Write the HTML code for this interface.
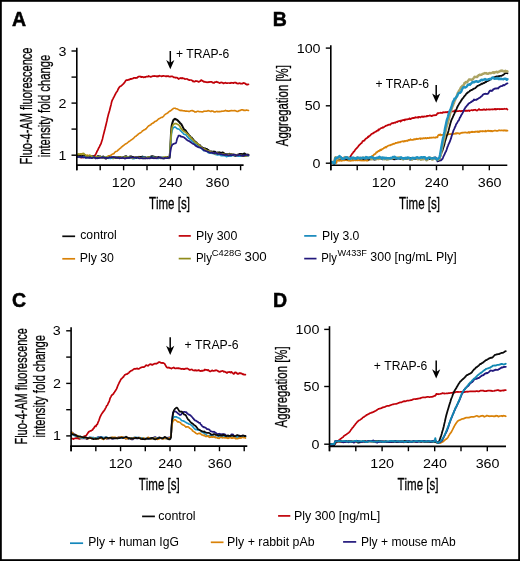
<!DOCTYPE html><html><head><meta charset="utf-8"><style>html,body{margin:0;padding:0;background:#fff;overflow:hidden}svg{filter:grayscale(0.001)}</style></head><body><svg width="520" height="561" viewBox="0 0 520 561" style="display:block">
<g font-family='"Liberation Sans", sans-serif' fill="#000" style="font-kerning:none">
<rect width="520" height="561" fill="#fff"/>
<path d="M77.0,157.3 L77.5,157.1 L78.0,157.1 L78.5,156.9 L79.0,156.9 L79.5,157.2 L80.0,157.3 L80.5,157.3 L81.0,157.6 L81.5,157.7 L82.0,157.4 L82.5,157.4 L83.0,157.5 L83.5,157.5 L84.0,157.2 L84.5,157.1 L85.0,156.9 L85.5,156.6 L86.0,156.1 L86.5,156.3 L87.0,156.2 L87.5,156.6 L88.0,156.9 L88.5,157.2 L89.0,156.8 L89.5,156.9 L90.0,156.8 L90.5,156.8 L91.0,156.5 L91.5,156.9 L92.0,156.8 L92.5,156.6 L93.0,156.5 L93.5,156.3 L94.0,156.0 L94.5,155.9 L95.0,155.4 L95.5,154.4 L96.0,153.7 L96.5,152.7 L97.0,151.4 L97.5,150.5 L98.0,149.8 L98.5,148.4 L99.0,147.5 L99.5,146.7 L100.0,145.5 L100.5,144.5 L101.0,143.8 L101.5,142.0 L102.0,140.4 L102.5,138.9 L103.0,136.6 L103.5,134.6 L104.0,132.7 L104.5,130.7 L105.0,128.8 L105.5,126.7 L106.0,124.7 L106.5,122.6 L107.0,120.5 L107.5,118.0 L108.0,116.1 L108.5,114.0 L109.0,112.4 L109.5,110.7 L110.0,108.7 L110.5,106.7 L111.0,104.9 L111.5,102.6 L112.0,100.8 L112.5,99.7 L113.0,98.8 L113.5,97.7 L114.0,96.9 L114.5,95.8 L115.0,94.8 L115.5,94.0 L116.0,92.9 L116.5,92.1 L117.0,91.5 L117.5,90.7 L118.0,89.5 L118.5,88.5 L119.0,87.7 L119.5,86.9 L120.0,86.6 L120.5,86.3 L121.0,86.0 L121.5,85.6 L122.0,85.2 L122.5,84.7 L123.0,84.2 L123.5,83.8 L124.0,83.0 L124.5,82.7 L125.0,81.8 L125.5,81.0 L126.0,80.4 L126.5,80.2 L127.0,79.8 L127.5,80.2 L128.0,80.1 L128.5,79.7 L129.0,79.7 L129.5,79.6 L130.0,79.0 L130.5,78.9 L131.0,79.1 L131.5,79.0 L132.0,78.6 L132.5,78.6 L133.0,78.5 L133.5,78.1 L134.0,77.9 L134.5,77.9 L135.0,78.0 L135.5,77.9 L136.0,78.1 L136.5,77.8 L137.0,77.9 L137.5,77.2 L138.0,76.8 L138.5,76.8 L139.0,76.4 L139.5,76.5 L140.0,76.5 L140.5,76.9 L141.0,76.6 L141.5,77.1 L142.0,76.9 L142.5,76.9 L143.0,77.0 L143.5,77.4 L144.0,77.2 L144.5,77.1 L145.0,77.3 L145.5,76.9 L146.0,76.8 L146.5,76.6 L147.0,76.7 L147.5,76.5 L148.0,76.6 L148.5,76.0 L149.0,76.4 L149.5,76.3 L150.0,76.7 L150.5,76.8 L151.0,76.9 L151.5,76.5 L152.0,76.4 L152.5,76.2 L153.0,76.1 L153.5,76.2 L154.0,76.0 L154.5,75.9 L155.0,76.2 L155.5,76.1 L156.0,76.0 L156.5,76.3 L157.0,76.7 L157.5,76.1 L158.0,76.2 L158.5,76.3 L159.0,75.8 L159.5,75.7 L160.0,76.0 L160.5,76.0 L161.0,76.0 L161.5,76.4 L162.0,76.2 L162.5,76.2 L163.0,75.9 L163.5,75.8 L164.0,76.0 L164.5,76.0 L165.0,76.1 L165.5,76.3 L166.0,76.4 L166.5,76.1 L167.0,76.3 L167.5,76.2 L168.0,76.1 L168.5,76.2 L169.0,76.6 L169.5,76.6 L170.0,76.7 L170.5,76.6 L171.0,76.4 L171.5,76.4 L172.0,76.5 L172.5,76.4 L173.0,76.7 L173.5,77.3 L174.0,77.3 L174.5,77.4 L175.0,77.5 L175.5,77.8 L176.0,77.5 L176.5,77.6 L177.0,77.7 L177.5,78.1 L178.0,78.3 L178.5,79.0 L179.0,78.7 L179.5,78.4 L180.0,78.5 L180.5,78.0 L181.0,77.9 L181.5,78.4 L182.0,78.5 L182.5,78.0 L183.0,78.4 L183.5,78.5 L184.0,78.4 L184.5,78.8 L185.0,79.2 L185.5,79.0 L186.0,79.0 L186.5,79.0 L187.0,78.8 L187.5,79.2 L188.0,79.6 L188.5,79.8 L189.0,79.9 L189.5,80.2 L190.0,80.0 L190.5,80.0 L191.0,80.0 L191.5,80.2 L192.0,80.5 L192.5,80.8 L193.0,81.5 L193.5,81.2 L194.0,81.6 L194.5,81.6 L195.0,81.6 L195.5,80.9 L196.0,81.2 L196.5,81.2 L197.0,81.2 L197.5,81.3 L198.0,81.5 L198.5,81.9 L199.0,81.8 L199.5,81.4 L200.0,81.2 L200.5,80.9 L201.0,80.1 L201.5,80.0 L202.0,80.7 L202.5,80.9 L203.0,81.1 L203.5,81.6 L204.0,81.9 L204.5,81.7 L205.0,81.7 L205.5,82.0 L206.0,82.2 L206.5,82.2 L207.0,82.3 L207.5,82.3 L208.0,82.1 L208.5,82.3 L209.0,82.0 L209.5,82.1 L210.0,81.8 L210.5,82.0 L211.0,81.9 L211.5,81.8 L212.0,82.0 L212.5,82.6 L213.0,82.5 L213.5,82.7 L214.0,83.0 L214.5,82.2 L215.0,82.0 L215.5,82.1 L216.0,82.0 L216.5,81.7 L217.0,82.2 L217.5,82.1 L218.0,82.4 L218.5,82.4 L219.0,82.7 L219.5,83.1 L220.0,83.0 L220.5,82.7 L221.0,82.3 L221.5,82.6 L222.0,82.5 L222.5,82.8 L223.0,83.1 L223.5,83.5 L224.0,83.2 L224.5,83.0 L225.0,82.8 L225.5,82.7 L226.0,83.0 L226.5,83.1 L227.0,83.1 L227.5,83.1 L228.0,83.0 L228.5,83.0 L229.0,83.0 L229.5,83.1 L230.0,83.1 L230.5,83.1 L231.0,82.7 L231.5,82.8 L232.0,82.8 L232.5,82.8 L233.0,83.0 L233.5,83.1 L234.0,82.6 L234.5,82.7 L235.0,82.6 L235.5,82.8 L236.0,82.6 L236.5,83.1 L237.0,83.5 L237.5,83.6 L238.0,83.3 L238.5,83.6 L239.0,83.5 L239.5,83.0 L240.0,83.2 L240.5,83.7 L241.0,83.6 L241.5,83.6 L242.0,83.6 L242.5,83.6 L243.0,83.0 L243.5,82.9 L244.0,83.2 L244.5,83.2 L245.0,83.4 L245.5,84.0 L246.0,84.3 L246.5,84.2 L247.0,84.8 L247.5,84.6 L248.0,84.3 L248.5,84.3" fill="none" stroke="#c00008" stroke-width="1.7" stroke-linejoin="round" stroke-linecap="round" opacity="1.0"/>
<path d="M77.0,155.2 L77.5,155.3 L78.0,155.3 L78.5,155.0 L79.0,154.9 L79.5,154.7 L80.0,154.3 L80.5,153.9 L81.0,153.9 L81.5,153.8 L82.0,153.7 L82.5,153.6 L83.0,153.7 L83.5,153.9 L84.0,154.1 L84.5,154.8 L85.0,155.2 L85.5,155.4 L86.0,155.4 L86.5,155.6 L87.0,155.2 L87.5,155.1 L88.0,155.4 L88.5,155.9 L89.0,156.0 L89.5,156.2 L90.0,156.6 L90.5,156.5 L91.0,156.6 L91.5,157.0 L92.0,157.4 L92.5,157.4 L93.0,157.4 L93.5,157.4 L94.0,157.0 L94.5,156.9 L95.0,157.1 L95.5,157.1 L96.0,157.3 L96.5,157.6 L97.0,157.9 L97.5,157.9 L98.0,158.2 L98.5,158.0 L99.0,157.8 L99.5,157.6 L100.0,157.4 L100.5,157.1 L101.0,157.3 L101.5,157.3 L102.0,157.3 L102.5,157.7 L103.0,157.6 L103.5,157.3 L104.0,157.3 L104.5,157.3 L105.0,157.1 L105.5,157.4 L106.0,157.5 L106.5,157.2 L107.0,156.8 L107.5,156.8 L108.0,156.4 L108.5,155.8 L109.0,155.9 L109.5,155.9 L110.0,155.7 L110.5,155.3 L111.0,155.3 L111.5,154.6 L112.0,154.6 L112.5,154.0 L113.0,154.0 L113.5,153.7 L114.0,153.6 L114.5,152.6 L115.0,152.2 L115.5,151.8 L116.0,151.4 L116.5,151.2 L117.0,151.2 L117.5,150.7 L118.0,150.1 L118.5,149.9 L119.0,149.3 L119.5,148.8 L120.0,148.5 L120.5,148.1 L121.0,147.6 L121.5,147.0 L122.0,146.6 L122.5,146.5 L123.0,145.8 L123.5,145.6 L124.0,145.2 L124.5,144.7 L125.0,144.2 L125.5,144.0 L126.0,143.8 L126.5,143.4 L127.0,143.2 L127.5,142.7 L128.0,142.3 L128.5,141.8 L129.0,141.5 L129.5,141.2 L130.0,140.9 L130.5,140.5 L131.0,140.1 L131.5,139.7 L132.0,139.5 L132.5,139.0 L133.0,138.8 L133.5,138.2 L134.0,137.9 L134.5,137.2 L135.0,136.7 L135.5,136.3 L136.0,136.3 L136.5,135.6 L137.0,135.2 L137.5,135.0 L138.0,134.4 L138.5,133.9 L139.0,133.6 L139.5,133.3 L140.0,133.1 L140.5,132.8 L141.0,132.4 L141.5,132.0 L142.0,131.5 L142.5,130.7 L143.0,130.7 L143.5,130.2 L144.0,129.9 L144.5,129.7 L145.0,129.6 L145.5,128.9 L146.0,128.9 L146.5,128.3 L147.0,127.6 L147.5,127.1 L148.0,126.5 L148.5,125.9 L149.0,125.8 L149.5,125.5 L150.0,125.1 L150.5,124.9 L151.0,124.7 L151.5,123.7 L152.0,123.6 L152.5,123.3 L153.0,123.2 L153.5,122.5 L154.0,122.5 L154.5,121.8 L155.0,121.5 L155.5,121.2 L156.0,121.2 L156.5,120.8 L157.0,120.5 L157.5,120.1 L158.0,119.4 L158.5,119.0 L159.0,118.7 L159.5,118.4 L160.0,118.2 L160.5,117.9 L161.0,117.6 L161.5,117.4 L162.0,117.4 L162.5,117.2 L163.0,116.7 L163.5,116.4 L164.0,115.7 L164.5,114.9 L165.0,114.6 L165.5,114.2 L166.0,113.9 L166.5,113.6 L167.0,113.4 L167.5,113.0 L168.0,112.7 L168.5,112.1 L169.0,111.8 L169.5,111.3 L170.0,111.1 L170.5,110.9 L171.0,110.4 L171.5,110.1 L172.0,109.6 L172.5,109.2 L173.0,108.8 L173.5,108.4 L174.0,108.2 L174.5,108.3 L175.0,108.3 L175.5,108.4 L176.0,108.8 L176.5,108.8 L177.0,108.9 L177.5,109.1 L178.0,109.4 L178.5,109.6 L179.0,110.0 L179.5,110.2 L180.0,110.4 L180.5,110.3 L181.0,110.7 L181.5,110.4 L182.0,110.5 L182.5,110.6 L183.0,110.8 L183.5,110.8 L184.0,111.0 L184.5,110.9 L185.0,111.0 L185.5,111.1 L186.0,111.1 L186.5,111.0 L187.0,111.1 L187.5,111.2 L188.0,111.3 L188.5,111.4 L189.0,111.4 L189.5,111.5 L190.0,111.3 L190.5,110.8 L191.0,110.8 L191.5,110.8 L192.0,110.5 L192.5,110.5 L193.0,111.1 L193.5,111.0 L194.0,111.3 L194.5,111.8 L195.0,112.1 L195.5,111.9 L196.0,112.0 L196.5,111.7 L197.0,111.4 L197.5,111.2 L198.0,111.3 L198.5,111.3 L199.0,111.7 L199.5,111.7 L200.0,111.6 L200.5,111.7 L201.0,111.7 L201.5,111.7 L202.0,111.9 L202.5,111.9 L203.0,111.8 L203.5,111.6 L204.0,111.1 L204.5,111.2 L205.0,111.2 L205.5,111.2 L206.0,111.1 L206.5,111.2 L207.0,111.1 L207.5,110.9 L208.0,110.5 L208.5,110.7 L209.0,110.9 L209.5,111.0 L210.0,111.1 L210.5,111.4 L211.0,111.6 L211.5,111.0 L212.0,110.9 L212.5,111.1 L213.0,111.2 L213.5,111.3 L214.0,111.9 L214.5,112.0 L215.0,111.9 L215.5,111.9 L216.0,111.6 L216.5,111.4 L217.0,111.4 L217.5,111.7 L218.0,111.5 L218.5,111.6 L219.0,111.6 L219.5,111.7 L220.0,111.4 L220.5,111.6 L221.0,111.4 L221.5,111.4 L222.0,111.1 L222.5,111.2 L223.0,111.2 L223.5,111.1 L224.0,110.9 L224.5,111.0 L225.0,110.8 L225.5,110.3 L226.0,110.7 L226.5,110.9 L227.0,110.9 L227.5,110.9 L228.0,111.3 L228.5,111.1 L229.0,111.2 L229.5,110.9 L230.0,110.9 L230.5,110.7 L231.0,110.6 L231.5,110.5 L232.0,110.7 L232.5,110.7 L233.0,110.6 L233.5,110.7 L234.0,110.7 L234.5,110.5 L235.0,110.6 L235.5,110.7 L236.0,111.1 L236.5,111.3 L237.0,111.4 L237.5,111.4 L238.0,111.5 L238.5,111.1 L239.0,110.6 L239.5,110.6 L240.0,110.6 L240.5,110.2 L241.0,110.0 L241.5,109.9 L242.0,110.0 L242.5,109.8 L243.0,109.9 L243.5,110.2 L244.0,110.5 L244.5,110.3 L245.0,110.5 L245.5,110.4 L246.0,110.3 L246.5,110.1 L247.0,110.3 L247.5,110.3 L248.0,110.4 L248.5,110.5" fill="none" stroke="#d98208" stroke-width="1.6" stroke-linejoin="round" stroke-linecap="round" opacity="1.0"/>
<path d="M77.0,155.5 L77.5,155.6 L78.0,155.1 L78.5,155.0 L79.0,155.0 L79.5,155.5 L80.0,155.6 L80.5,155.9 L81.0,156.2 L81.5,156.8 L82.0,156.2 L82.5,155.9 L83.0,156.2 L83.5,156.3 L84.0,156.1 L84.5,156.1 L85.0,156.8 L85.5,157.0 L86.0,157.2 L86.5,157.4 L87.0,157.2 L87.5,157.0 L88.0,156.7 L88.5,156.8 L89.0,156.9 L89.5,157.3 L90.0,156.9 L90.5,157.0 L91.0,156.7 L91.5,156.5 L92.0,156.5 L92.5,156.8 L93.0,156.2 L93.5,156.6 L94.0,156.8 L94.5,157.2 L95.0,157.7 L95.5,158.2 L96.0,157.6 L96.5,157.3 L97.0,156.8 L97.5,156.3 L98.0,156.3 L98.5,156.2 L99.0,156.5 L99.5,156.5 L100.0,156.6 L100.5,156.6 L101.0,157.0 L101.5,156.9 L102.0,157.1 L102.5,156.9 L103.0,156.6 L103.5,156.6 L104.0,157.1 L104.5,157.6 L105.0,158.1 L105.5,158.6 L106.0,158.5 L106.5,158.4 L107.0,157.9 L107.5,157.6 L108.0,157.4 L108.5,157.6 L109.0,157.2 L109.5,157.2 L110.0,156.9 L110.5,156.9 L111.0,157.4 L111.5,157.5 L112.0,157.5 L112.5,157.8 L113.0,158.1 L113.5,157.3 L114.0,157.3 L114.5,157.6 L115.0,157.5 L115.5,157.4 L116.0,158.0 L116.5,157.9 L117.0,157.7 L117.5,157.5 L118.0,157.8 L118.5,157.0 L119.0,157.0 L119.5,156.9 L120.0,157.2 L120.5,157.0 L121.0,157.7 L121.5,157.5 L122.0,157.8 L122.5,157.6 L123.0,157.3 L123.5,157.1 L124.0,157.3 L124.5,156.7 L125.0,156.6 L125.5,156.5 L126.0,156.2 L126.5,156.5 L127.0,157.0 L127.5,157.5 L128.0,157.8 L128.5,157.6 L129.0,157.3 L129.5,157.0 L130.0,156.4 L130.5,156.5 L131.0,156.7 L131.5,156.5 L132.0,156.8 L132.5,157.1 L133.0,157.1 L133.5,157.2 L134.0,157.8 L134.5,157.7 L135.0,158.0 L135.5,158.0 L136.0,158.1 L136.5,158.0 L137.0,157.7 L137.5,157.4 L138.0,157.2 L138.5,157.2 L139.0,156.8 L139.5,157.5 L140.0,157.5 L140.5,157.3 L141.0,156.9 L141.5,157.1 L142.0,156.8 L142.5,156.6 L143.0,156.9 L143.5,157.1 L144.0,157.3 L144.5,157.2 L145.0,157.3 L145.5,157.5 L146.0,158.2 L146.5,157.9 L147.0,157.9 L147.5,157.8 L148.0,157.7 L148.5,156.9 L149.0,157.0 L149.5,157.1 L150.0,157.1 L150.5,156.7 L151.0,156.9 L151.5,156.5 L152.0,156.2 L152.5,156.3 L153.0,156.6 L153.5,156.6 L154.0,156.7 L154.5,156.9 L155.0,157.2 L155.5,157.3 L156.0,157.3 L156.5,157.5 L157.0,157.8 L157.5,157.5 L158.0,157.1 L158.5,156.9 L159.0,157.4 L159.5,157.4 L160.0,157.8 L160.5,157.9 L161.0,158.3 L161.5,157.8 L162.0,157.8 L162.5,158.1 L163.0,158.3 L163.5,158.0 L164.0,158.1 L164.5,158.3 L165.0,158.0 L165.5,157.7 L166.0,157.4 L166.5,157.4 L167.0,157.3 L167.5,157.1 L168.0,157.5 L168.5,157.9 L169.0,158.2 L169.5,157.9 L170.0,152.7 L170.5,143.9 L171.0,133.3 L171.5,127.0 L172.0,124.2 L172.5,122.6 L173.0,121.0 L173.5,120.0 L174.0,119.4 L174.5,119.2 L175.0,118.7 L175.5,119.1 L176.0,119.3 L176.5,119.6 L177.0,119.9 L177.5,120.2 L178.0,120.7 L178.5,121.4 L179.0,121.7 L179.5,122.2 L180.0,123.1 L180.5,123.4 L181.0,123.9 L181.5,124.5 L182.0,125.4 L182.5,126.4 L183.0,127.7 L183.5,128.3 L184.0,129.4 L184.5,129.8 L185.0,130.0 L185.5,130.6 L186.0,131.0 L186.5,131.8 L187.0,132.5 L187.5,133.4 L188.0,133.8 L188.5,134.6 L189.0,135.1 L189.5,135.9 L190.0,136.2 L190.5,136.9 L191.0,137.5 L191.5,137.5 L192.0,138.1 L192.5,138.8 L193.0,139.2 L193.5,139.9 L194.0,141.1 L194.5,141.3 L195.0,141.5 L195.5,141.9 L196.0,142.6 L196.5,142.5 L197.0,143.4 L197.5,143.8 L198.0,144.1 L198.5,144.5 L199.0,145.2 L199.5,145.0 L200.0,145.4 L200.5,146.2 L201.0,146.5 L201.5,146.8 L202.0,147.5 L202.5,148.0 L203.0,148.0 L203.5,148.0 L204.0,148.4 L204.5,148.4 L205.0,148.4 L205.5,148.7 L206.0,148.9 L206.5,148.9 L207.0,149.2 L207.5,149.7 L208.0,149.9 L208.5,150.3 L209.0,150.8 L209.5,151.2 L210.0,151.6 L210.5,151.6 L211.0,151.7 L211.5,151.5 L212.0,151.9 L212.5,152.0 L213.0,151.8 L213.5,151.6 L214.0,151.9 L214.5,151.8 L215.0,151.7 L215.5,152.2 L216.0,152.7 L216.5,152.8 L217.0,152.7 L217.5,152.9 L218.0,152.5 L218.5,152.6 L219.0,152.4 L219.5,152.7 L220.0,152.5 L220.5,152.9 L221.0,152.9 L221.5,153.0 L222.0,152.7 L222.5,152.5 L223.0,152.7 L223.5,152.8 L224.0,153.4 L224.5,153.6 L225.0,154.3 L225.5,154.3 L226.0,154.3 L226.5,154.2 L227.0,154.6 L227.5,154.3 L228.0,154.3 L228.5,154.4 L229.0,154.3 L229.5,153.9 L230.0,154.3 L230.5,154.3 L231.0,154.4 L231.5,154.3 L232.0,154.6 L232.5,154.5 L233.0,154.5 L233.5,154.9 L234.0,155.2 L234.5,155.6 L235.0,155.7 L235.5,155.7 L236.0,155.2 L236.5,155.2 L237.0,154.9 L237.5,154.7 L238.0,154.8 L238.5,154.5 L239.0,154.4 L239.5,153.9 L240.0,154.0 L240.5,153.9 L241.0,154.1 L241.5,154.1 L242.0,154.7 L242.5,154.3 L243.0,154.1 L243.5,154.0 L244.0,153.6 L244.5,153.4 L245.0,154.0 L245.5,154.2 L246.0,154.6 L246.5,154.7 L247.0,155.0 L247.5,154.6 L248.0,154.8 L248.5,154.7" fill="none" stroke="#0a0a0a" stroke-width="2.0" stroke-linejoin="round" stroke-linecap="round" opacity="1.0"/>
<path d="M77.0,157.1 L77.5,157.1 L78.0,157.2 L78.5,157.1 L79.0,157.1 L79.5,156.8 L80.0,157.0 L80.5,157.0 L81.0,157.5 L81.5,157.1 L82.0,157.1 L82.5,157.2 L83.0,157.2 L83.5,156.8 L84.0,157.1 L84.5,157.0 L85.0,156.9 L85.5,157.4 L86.0,157.7 L86.5,157.6 L87.0,157.7 L87.5,157.6 L88.0,157.4 L88.5,157.1 L89.0,157.2 L89.5,157.5 L90.0,157.7 L90.5,157.5 L91.0,157.4 L91.5,157.3 L92.0,157.1 L92.5,156.6 L93.0,156.8 L93.5,156.8 L94.0,157.2 L94.5,157.6 L95.0,158.1 L95.5,157.8 L96.0,158.1 L96.5,158.2 L97.0,157.8 L97.5,157.4 L98.0,157.6 L98.5,157.2 L99.0,157.3 L99.5,157.0 L100.0,157.0 L100.5,157.0 L101.0,157.2 L101.5,157.0 L102.0,157.4 L102.5,157.6 L103.0,157.8 L103.5,157.5 L104.0,157.5 L104.5,157.3 L105.0,157.4 L105.5,157.2 L106.0,157.4 L106.5,157.3 L107.0,157.6 L107.5,157.6 L108.0,157.5 L108.5,157.9 L109.0,158.4 L109.5,158.0 L110.0,158.0 L110.5,158.5 L111.0,158.3 L111.5,158.0 L112.0,158.2 L112.5,158.1 L113.0,157.7 L113.5,157.5 L114.0,157.6 L114.5,157.5 L115.0,157.5 L115.5,157.4 L116.0,157.5 L116.5,157.2 L117.0,157.3 L117.5,157.5 L118.0,157.7 L118.5,157.8 L119.0,158.0 L119.5,158.1 L120.0,157.9 L120.5,157.8 L121.0,157.8 L121.5,157.6 L122.0,157.8 L122.5,157.8 L123.0,157.8 L123.5,157.6 L124.0,157.6 L124.5,157.5 L125.0,157.3 L125.5,157.6 L126.0,157.6 L126.5,157.3 L127.0,157.2 L127.5,157.0 L128.0,156.8 L128.5,157.1 L129.0,157.6 L129.5,157.5 L130.0,157.7 L130.5,158.0 L131.0,157.8 L131.5,157.7 L132.0,158.1 L132.5,158.6 L133.0,158.6 L133.5,158.5 L134.0,158.6 L134.5,158.5 L135.0,158.0 L135.5,157.7 L136.0,157.7 L136.5,157.5 L137.0,157.4 L137.5,157.5 L138.0,158.0 L138.5,157.9 L139.0,158.0 L139.5,158.0 L140.0,158.0 L140.5,157.8 L141.0,157.9 L141.5,157.8 L142.0,157.5 L142.5,157.3 L143.0,157.3 L143.5,157.3 L144.0,157.3 L144.5,157.5 L145.0,157.7 L145.5,157.7 L146.0,157.6 L146.5,157.7 L147.0,157.4 L147.5,157.3 L148.0,157.4 L148.5,157.2 L149.0,157.2 L149.5,157.5 L150.0,157.6 L150.5,157.2 L151.0,157.6 L151.5,157.6 L152.0,157.6 L152.5,157.3 L153.0,157.5 L153.5,157.3 L154.0,157.2 L154.5,157.3 L155.0,157.7 L155.5,157.9 L156.0,157.9 L156.5,158.1 L157.0,158.3 L157.5,158.4 L158.0,158.4 L158.5,158.5 L159.0,158.3 L159.5,158.3 L160.0,157.9 L160.5,157.7 L161.0,157.6 L161.5,157.6 L162.0,157.2 L162.5,157.3 L163.0,157.2 L163.5,157.5 L164.0,157.7 L164.5,157.9 L165.0,158.0 L165.5,157.9 L166.0,157.8 L166.5,157.7 L167.0,157.8 L167.5,158.1 L168.0,158.2 L168.5,157.9 L169.0,157.8 L169.5,157.5 L170.0,152.9 L170.5,145.6 L171.0,139.8 L171.5,133.8 L172.0,131.0 L172.5,129.5 L173.0,128.2 L173.5,127.6 L174.0,127.4 L174.5,127.1 L175.0,126.9 L175.5,127.3 L176.0,127.7 L176.5,128.1 L177.0,128.6 L177.5,128.9 L178.0,128.9 L178.5,129.1 L179.0,129.3 L179.5,129.5 L180.0,130.0 L180.5,130.7 L181.0,131.0 L181.5,131.6 L182.0,132.2 L182.5,132.5 L183.0,133.1 L183.5,133.9 L184.0,134.2 L184.5,134.2 L185.0,134.5 L185.5,134.8 L186.0,134.9 L186.5,135.4 L187.0,136.5 L187.5,137.0 L188.0,137.3 L188.5,138.2 L189.0,138.6 L189.5,138.7 L190.0,139.2 L190.5,139.9 L191.0,139.9 L191.5,140.6 L192.0,141.1 L192.5,141.4 L193.0,141.8 L193.5,142.4 L194.0,142.6 L194.5,143.1 L195.0,143.7 L195.5,144.5 L196.0,144.6 L196.5,145.3 L197.0,145.6 L197.5,146.0 L198.0,146.0 L198.5,146.7 L199.0,147.0 L199.5,147.4 L200.0,147.7 L200.5,147.8 L201.0,148.1 L201.5,148.4 L202.0,148.9 L202.5,149.4 L203.0,149.9 L203.5,150.4 L204.0,150.7 L204.5,150.5 L205.0,150.5 L205.5,150.4 L206.0,150.6 L206.5,150.7 L207.0,151.3 L207.5,151.8 L208.0,152.5 L208.5,152.7 L209.0,153.0 L209.5,152.9 L210.0,153.0 L210.5,153.0 L211.0,152.9 L211.5,153.1 L212.0,153.5 L212.5,153.4 L213.0,153.5 L213.5,153.6 L214.0,153.8 L214.5,153.8 L215.0,154.2 L215.5,154.5 L216.0,154.5 L216.5,154.8 L217.0,154.7 L217.5,154.9 L218.0,154.9 L218.5,154.8 L219.0,154.6 L219.5,154.8 L220.0,155.0 L220.5,155.1 L221.0,155.6 L221.5,155.5 L222.0,155.8 L222.5,155.8 L223.0,155.8 L223.5,155.8 L224.0,155.8 L224.5,155.8 L225.0,155.9 L225.5,156.1 L226.0,156.3 L226.5,156.7 L227.0,156.4 L227.5,156.2 L228.0,156.0 L228.5,155.8 L229.0,155.7 L229.5,156.1 L230.0,155.9 L230.5,156.2 L231.0,156.1 L231.5,155.9 L232.0,155.8 L232.5,155.6 L233.0,155.4 L233.5,155.3 L234.0,155.4 L234.5,155.1 L235.0,155.0 L235.5,155.0 L236.0,155.2 L236.5,155.3 L237.0,155.9 L237.5,155.9 L238.0,156.1 L238.5,156.2 L239.0,156.1 L239.5,155.7 L240.0,156.2 L240.5,156.3 L241.0,155.9 L241.5,155.8 L242.0,155.9 L242.5,155.7 L243.0,155.5 L243.5,155.5 L244.0,155.8 L244.5,155.9 L245.0,155.7 L245.5,156.0 L246.0,156.3 L246.5,155.9 L247.0,155.8 L247.5,155.9 L248.0,155.8 L248.5,155.7" fill="none" stroke="#1a96c8" stroke-width="1.6" stroke-linejoin="round" stroke-linecap="round" opacity="1.0"/>
<path d="M77.0,154.5 L77.5,154.4 L78.0,154.4 L78.5,153.9 L79.0,154.5 L79.5,154.2 L80.0,154.1 L80.5,154.0 L81.0,154.4 L81.5,154.0 L82.0,153.9 L82.5,153.9 L83.0,153.7 L83.5,153.3 L84.0,153.9 L84.5,154.3 L85.0,154.7 L85.5,154.9 L86.0,155.8 L86.5,155.8 L87.0,156.1 L87.5,156.0 L88.0,156.1 L88.5,156.0 L89.0,155.6 L89.5,155.2 L90.0,155.3 L90.5,155.5 L91.0,155.7 L91.5,156.1 L92.0,156.8 L92.5,157.1 L93.0,157.4 L93.5,157.6 L94.0,157.6 L94.5,157.3 L95.0,157.2 L95.5,157.1 L96.0,156.8 L96.5,156.8 L97.0,156.8 L97.5,157.0 L98.0,157.0 L98.5,157.1 L99.0,157.2 L99.5,157.0 L100.0,156.6 L100.5,156.9 L101.0,157.3 L101.5,157.5 L102.0,157.6 L102.5,157.9 L103.0,157.6 L103.5,157.4 L104.0,157.3 L104.5,157.5 L105.0,157.5 L105.5,157.5 L106.0,157.3 L106.5,157.0 L107.0,156.9 L107.5,156.5 L108.0,156.6 L108.5,156.5 L109.0,156.8 L109.5,157.0 L110.0,157.0 L110.5,156.9 L111.0,156.9 L111.5,157.0 L112.0,157.2 L112.5,157.5 L113.0,157.6 L113.5,158.0 L114.0,157.7 L114.5,157.6 L115.0,157.4 L115.5,157.0 L116.0,157.2 L116.5,157.7 L117.0,157.3 L117.5,157.4 L118.0,157.8 L118.5,157.4 L119.0,157.0 L119.5,157.0 L120.0,157.1 L120.5,157.2 L121.0,157.3 L121.5,157.6 L122.0,158.1 L122.5,157.9 L123.0,157.9 L123.5,157.4 L124.0,157.2 L124.5,157.0 L125.0,157.0 L125.5,157.0 L126.0,157.3 L126.5,157.4 L127.0,157.1 L127.5,157.2 L128.0,157.0 L128.5,157.2 L129.0,157.4 L129.5,157.4 L130.0,157.3 L130.5,157.5 L131.0,157.3 L131.5,157.4 L132.0,157.9 L132.5,158.2 L133.0,158.1 L133.5,158.1 L134.0,157.8 L134.5,157.3 L135.0,157.0 L135.5,156.9 L136.0,156.9 L136.5,157.1 L137.0,157.2 L137.5,157.3 L138.0,157.2 L138.5,157.5 L139.0,157.5 L139.5,157.9 L140.0,158.0 L140.5,158.4 L141.0,158.1 L141.5,158.2 L142.0,158.3 L142.5,158.0 L143.0,158.0 L143.5,158.3 L144.0,158.2 L144.5,157.9 L145.0,158.3 L145.5,158.0 L146.0,157.8 L146.5,157.6 L147.0,157.4 L147.5,157.1 L148.0,157.2 L148.5,157.1 L149.0,157.3 L149.5,157.2 L150.0,157.6 L150.5,157.9 L151.0,158.0 L151.5,157.8 L152.0,158.0 L152.5,157.8 L153.0,157.7 L153.5,157.3 L154.0,157.5 L154.5,158.0 L155.0,157.6 L155.5,157.7 L156.0,158.0 L156.5,157.9 L157.0,157.6 L157.5,157.7 L158.0,157.6 L158.5,157.8 L159.0,157.8 L159.5,157.5 L160.0,157.7 L160.5,157.6 L161.0,157.6 L161.5,157.5 L162.0,157.7 L162.5,157.5 L163.0,157.6 L163.5,157.4 L164.0,157.1 L164.5,157.0 L165.0,157.0 L165.5,156.8 L166.0,157.1 L166.5,157.3 L167.0,157.2 L167.5,157.6 L168.0,157.6 L168.5,157.6 L169.0,157.9 L169.5,157.9 L170.0,152.5 L170.5,143.7 L171.0,136.9 L171.5,130.9 L172.0,128.0 L172.5,126.3 L173.0,124.9 L173.5,124.6 L174.0,124.2 L174.5,123.7 L175.0,123.5 L175.5,123.7 L176.0,123.5 L176.5,123.7 L177.0,124.0 L177.5,124.5 L178.0,124.5 L178.5,124.7 L179.0,125.3 L179.5,125.9 L180.0,126.5 L180.5,127.5 L181.0,128.4 L181.5,128.8 L182.0,129.7 L182.5,130.2 L183.0,130.5 L183.5,131.0 L184.0,131.5 L184.5,131.5 L185.0,131.9 L185.5,132.5 L186.0,132.6 L186.5,133.0 L187.0,133.6 L187.5,134.0 L188.0,134.3 L188.5,135.0 L189.0,135.6 L189.5,136.1 L190.0,136.5 L190.5,137.4 L191.0,137.8 L191.5,138.2 L192.0,138.9 L192.5,139.5 L193.0,139.8 L193.5,140.7 L194.0,141.1 L194.5,141.3 L195.0,142.0 L195.5,142.7 L196.0,142.7 L196.5,143.1 L197.0,143.4 L197.5,143.6 L198.0,143.8 L198.5,144.4 L199.0,145.0 L199.5,145.4 L200.0,145.9 L200.5,146.5 L201.0,146.8 L201.5,147.2 L202.0,147.9 L202.5,148.2 L203.0,148.4 L203.5,148.8 L204.0,148.9 L204.5,149.0 L205.0,149.4 L205.5,149.6 L206.0,149.9 L206.5,150.4 L207.0,150.5 L207.5,150.7 L208.0,150.8 L208.5,150.9 L209.0,150.8 L209.5,151.4 L210.0,151.5 L210.5,151.8 L211.0,152.0 L211.5,152.2 L212.0,152.1 L212.5,152.3 L213.0,152.9 L213.5,153.1 L214.0,153.5 L214.5,153.6 L215.0,153.8 L215.5,153.4 L216.0,153.4 L216.5,153.3 L217.0,153.3 L217.5,153.0 L218.0,153.5 L218.5,153.5 L219.0,153.5 L219.5,153.6 L220.0,154.0 L220.5,154.0 L221.0,153.9 L221.5,153.9 L222.0,154.0 L222.5,154.1 L223.0,154.1 L223.5,154.2 L224.0,154.3 L224.5,154.3 L225.0,154.5 L225.5,154.5 L226.0,154.8 L226.5,155.1 L227.0,155.1 L227.5,155.1 L228.0,155.1 L228.5,154.6 L229.0,154.3 L229.5,154.4 L230.0,154.2 L230.5,154.4 L231.0,154.7 L231.5,154.6 L232.0,154.8 L232.5,154.6 L233.0,154.7 L233.5,154.6 L234.0,154.8 L234.5,154.5 L235.0,154.6 L235.5,154.7 L236.0,154.9 L236.5,155.2 L237.0,155.2 L237.5,155.3 L238.0,155.2 L238.5,155.2 L239.0,154.8 L239.5,155.1 L240.0,155.2 L240.5,155.2 L241.0,155.2 L241.5,155.7 L242.0,155.6 L242.5,155.8 L243.0,156.0 L243.5,156.1 L244.0,156.2 L244.5,156.1 L245.0,156.2 L245.5,156.2 L246.0,156.0 L246.5,155.7 L247.0,155.7 L247.5,155.6 L248.0,155.5 L248.5,155.5" fill="none" stroke="#9c9620" stroke-width="1.7" stroke-linejoin="round" stroke-linecap="round" opacity="1.0"/>
<path d="M77.0,157.1 L77.5,157.1 L78.0,156.8 L78.5,157.0 L79.0,157.0 L79.5,156.9 L80.0,156.9 L80.5,156.9 L81.0,157.1 L81.5,156.9 L82.0,157.2 L82.5,156.9 L83.0,157.4 L83.5,157.3 L84.0,157.5 L84.5,157.3 L85.0,157.5 L85.5,157.8 L86.0,157.7 L86.5,157.5 L87.0,157.6 L87.5,157.6 L88.0,157.4 L88.5,157.8 L89.0,157.8 L89.5,157.6 L90.0,158.0 L90.5,157.9 L91.0,157.8 L91.5,158.1 L92.0,158.2 L92.5,158.0 L93.0,157.6 L93.5,157.3 L94.0,157.3 L94.5,157.3 L95.0,157.7 L95.5,157.9 L96.0,158.1 L96.5,158.0 L97.0,158.4 L97.5,158.1 L98.0,157.9 L98.5,158.1 L99.0,158.2 L99.5,157.8 L100.0,157.6 L100.5,158.0 L101.0,158.0 L101.5,157.6 L102.0,157.6 L102.5,157.6 L103.0,157.5 L103.5,157.5 L104.0,157.8 L104.5,158.0 L105.0,157.9 L105.5,157.9 L106.0,158.0 L106.5,157.9 L107.0,158.0 L107.5,158.1 L108.0,157.9 L108.5,157.9 L109.0,157.7 L109.5,157.2 L110.0,157.5 L110.5,157.5 L111.0,157.3 L111.5,157.2 L112.0,157.4 L112.5,157.0 L113.0,157.1 L113.5,157.2 L114.0,157.1 L114.5,157.4 L115.0,157.4 L115.5,157.3 L116.0,157.3 L116.5,157.7 L117.0,157.3 L117.5,157.8 L118.0,157.8 L118.5,157.8 L119.0,157.8 L119.5,158.3 L120.0,157.9 L120.5,158.2 L121.0,158.1 L121.5,158.2 L122.0,157.9 L122.5,157.9 L123.0,158.0 L123.5,158.2 L124.0,158.0 L124.5,158.5 L125.0,158.6 L125.5,158.2 L126.0,158.3 L126.5,158.1 L127.0,157.9 L127.5,158.0 L128.0,158.1 L128.5,157.8 L129.0,158.1 L129.5,157.9 L130.0,157.5 L130.5,157.7 L131.0,157.5 L131.5,157.4 L132.0,157.4 L132.5,157.5 L133.0,157.4 L133.5,157.6 L134.0,157.7 L134.5,157.7 L135.0,157.7 L135.5,157.4 L136.0,157.4 L136.5,157.4 L137.0,157.3 L137.5,157.4 L138.0,157.8 L138.5,158.1 L139.0,158.3 L139.5,158.4 L140.0,158.2 L140.5,158.2 L141.0,158.1 L141.5,158.0 L142.0,158.1 L142.5,158.5 L143.0,158.4 L143.5,158.5 L144.0,158.4 L144.5,158.5 L145.0,158.3 L145.5,158.2 L146.0,158.3 L146.5,158.1 L147.0,158.3 L147.5,158.3 L148.0,158.4 L148.5,158.2 L149.0,158.2 L149.5,158.3 L150.0,158.3 L150.5,157.9 L151.0,157.8 L151.5,157.8 L152.0,157.8 L152.5,157.9 L153.0,158.2 L153.5,158.2 L154.0,158.3 L154.5,158.1 L155.0,158.3 L155.5,158.1 L156.0,158.3 L156.5,158.3 L157.0,158.1 L157.5,157.8 L158.0,157.8 L158.5,157.4 L159.0,157.4 L159.5,157.7 L160.0,157.6 L160.5,157.4 L161.0,158.0 L161.5,158.0 L162.0,158.1 L162.5,158.3 L163.0,158.5 L163.5,158.4 L164.0,158.3 L164.5,158.1 L165.0,157.9 L165.5,158.0 L166.0,158.0 L166.5,158.1 L167.0,158.1 L167.5,158.0 L168.0,158.1 L168.5,157.8 L169.0,157.7 L169.5,157.7 L170.0,155.3 L170.5,150.7 L171.0,148.1 L171.5,146.5 L172.0,145.4 L172.5,144.5 L173.0,144.0 L173.5,144.2 L174.0,143.8 L174.5,143.5 L175.0,143.4 L175.5,143.3 L176.0,143.0 L176.5,141.4 L177.0,139.3 L177.5,137.8 L178.0,136.8 L178.5,135.7 L179.0,135.8 L179.5,135.5 L180.0,135.8 L180.5,136.1 L181.0,136.7 L181.5,136.5 L182.0,136.8 L182.5,136.8 L183.0,137.0 L183.5,137.0 L184.0,137.5 L184.5,137.8 L185.0,138.3 L185.5,138.6 L186.0,139.0 L186.5,139.7 L187.0,139.9 L187.5,140.3 L188.0,140.7 L188.5,141.0 L189.0,140.9 L189.5,141.5 L190.0,141.7 L190.5,142.2 L191.0,142.4 L191.5,142.8 L192.0,143.2 L192.5,143.6 L193.0,143.6 L193.5,144.0 L194.0,144.3 L194.5,144.6 L195.0,145.1 L195.5,145.8 L196.0,145.9 L196.5,146.0 L197.0,146.6 L197.5,146.9 L198.0,146.9 L198.5,147.2 L199.0,147.5 L199.5,147.5 L200.0,147.3 L200.5,147.7 L201.0,148.0 L201.5,148.1 L202.0,148.6 L202.5,149.0 L203.0,149.3 L203.5,149.8 L204.0,150.4 L204.5,150.4 L205.0,150.7 L205.5,150.8 L206.0,151.1 L206.5,151.3 L207.0,151.3 L207.5,151.5 L208.0,151.9 L208.5,151.8 L209.0,152.2 L209.5,152.7 L210.0,152.7 L210.5,152.8 L211.0,152.6 L211.5,152.5 L212.0,152.4 L212.5,153.0 L213.0,153.2 L213.5,153.2 L214.0,153.1 L214.5,153.3 L215.0,152.7 L215.5,152.7 L216.0,153.1 L216.5,153.4 L217.0,153.4 L217.5,153.6 L218.0,154.0 L218.5,154.0 L219.0,154.0 L219.5,153.9 L220.0,154.0 L220.5,154.1 L221.0,154.0 L221.5,154.1 L222.0,154.5 L222.5,154.6 L223.0,154.5 L223.5,154.7 L224.0,154.9 L224.5,155.0 L225.0,155.1 L225.5,154.8 L226.0,154.9 L226.5,154.9 L227.0,155.0 L227.5,155.0 L228.0,155.5 L228.5,155.6 L229.0,155.4 L229.5,155.2 L230.0,155.2 L230.5,154.8 L231.0,155.1 L231.5,155.3 L232.0,155.2 L232.5,154.9 L233.0,155.2 L233.5,155.0 L234.0,154.4 L234.5,154.7 L235.0,154.9 L235.5,154.8 L236.0,155.2 L236.5,155.6 L237.0,155.4 L237.5,155.4 L238.0,155.3 L238.5,154.8 L239.0,154.9 L239.5,154.9 L240.0,154.8 L240.5,155.2 L241.0,155.5 L241.5,155.6 L242.0,155.7 L242.5,155.9 L243.0,155.8 L243.5,155.7 L244.0,155.8 L244.5,155.6 L245.0,155.5 L245.5,155.0 L246.0,155.0 L246.5,154.8 L247.0,155.1 L247.5,155.1 L248.0,155.3 L248.5,155.3" fill="none" stroke="#22187c" stroke-width="1.7" stroke-linejoin="round" stroke-linecap="round" opacity="1.0"/>
<path d="M331.0,162.7 L331.5,162.6 L332.0,162.5 L332.5,162.4 L333.0,162.7 L333.5,162.3 L334.0,162.7 L334.5,162.7 L335.0,157.8 L335.5,157.7 L336.0,157.6 L336.5,158.4 L337.0,157.6 L337.5,158.3 L338.0,158.1 L338.5,157.8 L339.0,157.6 L339.5,158.2 L340.0,158.3 L340.5,157.7 L341.0,157.8 L341.5,158.1 L342.0,157.9 L342.5,158.3 L343.0,157.7 L343.5,158.0 L344.0,157.5 L344.5,158.3 L345.0,157.6 L345.5,157.2 L346.0,157.7 L346.5,157.7 L347.0,158.2 L347.5,157.7 L348.0,157.7 L348.5,157.9 L349.0,158.1 L349.5,157.7 L350.0,157.2 L350.5,156.4 L351.0,155.4 L351.5,154.8 L352.0,154.1 L352.5,153.2 L353.0,153.0 L353.5,151.7 L354.0,151.7 L354.5,151.0 L355.0,150.1 L355.5,149.4 L356.0,148.9 L356.5,148.5 L357.0,147.9 L357.5,147.2 L358.0,146.8 L358.5,145.9 L359.0,145.5 L359.5,144.6 L360.0,144.6 L360.5,143.9 L361.0,143.3 L361.5,143.2 L362.0,142.5 L362.5,141.2 L363.0,141.4 L363.5,140.6 L364.0,140.7 L364.5,140.6 L365.0,139.4 L365.5,139.1 L366.0,138.6 L366.5,138.3 L367.0,138.0 L367.5,137.7 L368.0,136.7 L368.5,137.0 L369.0,136.0 L369.5,135.9 L370.0,135.7 L370.5,135.2 L371.0,134.4 L371.5,134.1 L372.0,133.8 L372.5,133.6 L373.0,133.5 L373.5,132.6 L374.0,132.7 L374.5,132.4 L375.0,132.1 L375.5,131.7 L376.0,131.7 L376.5,131.1 L377.0,130.9 L377.5,130.5 L378.0,130.6 L378.5,129.3 L379.0,129.9 L379.5,129.2 L380.0,128.9 L380.5,128.5 L381.0,128.0 L381.5,128.1 L382.0,127.8 L382.5,127.8 L383.0,127.1 L383.5,127.5 L384.0,127.0 L384.5,126.7 L385.0,126.3 L385.5,126.1 L386.0,125.7 L386.5,125.7 L387.0,125.6 L387.5,125.3 L388.0,124.8 L388.5,124.9 L389.0,124.5 L389.5,124.6 L390.0,124.8 L390.5,124.3 L391.0,123.9 L391.5,123.4 L392.0,123.3 L392.5,123.0 L393.0,123.4 L393.5,122.9 L394.0,122.9 L394.5,122.6 L395.0,122.6 L395.5,122.8 L396.0,122.1 L396.5,122.0 L397.0,121.7 L397.5,122.0 L398.0,121.4 L398.5,121.2 L399.0,121.0 L399.5,120.8 L400.0,121.2 L400.5,121.6 L401.0,120.5 L401.5,120.9 L402.0,120.6 L402.5,120.1 L403.0,120.2 L403.5,120.1 L404.0,119.8 L404.5,120.4 L405.0,119.3 L405.5,119.8 L406.0,119.6 L406.5,119.3 L407.0,119.4 L407.5,119.4 L408.0,119.1 L408.5,119.1 L409.0,119.1 L409.5,118.3 L410.0,119.1 L410.5,119.2 L411.0,118.7 L411.5,118.7 L412.0,118.0 L412.5,118.2 L413.0,117.9 L413.5,117.9 L414.0,118.2 L414.5,117.7 L415.0,117.7 L415.5,117.2 L416.0,117.6 L416.5,117.5 L417.0,117.3 L417.5,117.2 L418.0,117.8 L418.5,116.9 L419.0,116.9 L419.5,116.9 L420.0,117.3 L420.5,117.4 L421.0,116.9 L421.5,116.6 L422.0,116.6 L422.5,116.9 L423.0,116.4 L423.5,116.9 L424.0,116.8 L424.5,116.4 L425.0,116.5 L425.5,116.5 L426.0,116.6 L426.5,115.9 L427.0,116.4 L427.5,115.9 L428.0,115.8 L428.5,116.0 L429.0,115.8 L429.5,115.6 L430.0,115.4 L430.5,115.5 L431.0,116.0 L431.5,116.1 L432.0,115.7 L432.5,115.8 L433.0,115.4 L433.5,115.4 L434.0,115.5 L434.5,115.1 L435.0,115.1 L435.5,115.3 L436.0,115.1 L436.5,114.9 L437.0,114.0 L437.5,113.2 L438.0,113.5 L438.5,113.1 L439.0,113.0 L439.5,113.0 L440.0,112.9 L440.5,112.7 L441.0,112.7 L441.5,112.9 L442.0,112.9 L442.5,113.0 L443.0,112.1 L443.5,112.4 L444.0,112.3 L444.5,112.4 L445.0,112.2 L445.5,112.1 L446.0,112.4 L446.5,112.2 L447.0,111.8 L447.5,112.3 L448.0,112.2 L448.5,111.7 L449.0,112.0 L449.5,111.6 L450.0,112.0 L450.5,111.6 L451.0,111.4 L451.5,111.5 L452.0,111.3 L452.5,111.5 L453.0,111.5 L453.5,111.4 L454.0,111.3 L454.5,110.5 L455.0,111.4 L455.5,110.8 L456.0,111.3 L456.5,111.5 L457.0,111.3 L457.5,111.1 L458.0,111.1 L458.5,111.1 L459.0,111.0 L459.5,110.9 L460.0,110.8 L460.5,111.3 L461.0,111.0 L461.5,111.2 L462.0,110.8 L462.5,110.9 L463.0,110.8 L463.5,110.9 L464.0,111.0 L464.5,110.8 L465.0,110.6 L465.5,110.5 L466.0,111.1 L466.5,110.6 L467.0,110.5 L467.5,110.9 L468.0,110.8 L468.5,110.6 L469.0,110.4 L469.5,111.0 L470.0,110.5 L470.5,110.5 L471.0,110.3 L471.5,110.0 L472.0,110.0 L472.5,110.4 L473.0,110.3 L473.5,110.1 L474.0,109.9 L474.5,109.8 L475.0,110.0 L475.5,109.7 L476.0,110.3 L476.5,110.3 L477.0,110.7 L477.5,110.2 L478.0,109.8 L478.5,109.7 L479.0,109.0 L479.5,109.7 L480.0,109.8 L480.5,110.0 L481.0,109.9 L481.5,109.9 L482.0,109.7 L482.5,109.8 L483.0,110.0 L483.5,109.4 L484.0,109.5 L484.5,109.3 L485.0,110.0 L485.5,109.9 L486.0,109.8 L486.5,109.2 L487.0,109.6 L487.5,109.5 L488.0,109.5 L488.5,109.4 L489.0,109.6 L489.5,109.4 L490.0,109.7 L490.5,109.5 L491.0,109.3 L491.5,109.4 L492.0,109.3 L492.5,109.6 L493.0,109.3 L493.5,109.4 L494.0,109.2 L494.5,108.9 L495.0,109.5 L495.5,109.0 L496.0,109.4 L496.5,109.3 L497.0,108.8 L497.5,109.0 L498.0,109.1 L498.5,109.0 L499.0,108.9 L499.5,109.3 L500.0,109.1 L500.5,109.2 L501.0,109.0 L501.5,109.2 L502.0,108.9 L502.5,109.0 L503.0,109.2 L503.5,109.0 L504.0,108.9 L504.5,108.7 L505.0,109.0 L505.5,109.0 L506.0,108.9 L506.5,108.7 L507.0,109.1 L507.5,109.5" fill="none" stroke="#c00008" stroke-width="1.7" stroke-linejoin="round" stroke-linecap="round" opacity="1.0"/>
<path d="M331.0,162.8 L331.5,163.0 L332.0,163.0 L332.5,162.3 L333.0,162.9 L333.5,162.7 L334.0,163.2 L334.5,162.8 L335.0,162.7 L335.5,162.8 L336.0,162.9 L336.5,162.8 L337.0,160.4 L337.5,160.1 L338.0,160.3 L338.5,160.6 L339.0,160.9 L339.5,160.6 L340.0,160.5 L340.5,160.7 L341.0,160.7 L341.5,160.8 L342.0,160.7 L342.5,160.4 L343.0,160.5 L343.5,160.4 L344.0,160.5 L344.5,160.5 L345.0,160.2 L345.5,159.9 L346.0,160.2 L346.5,159.9 L347.0,160.4 L347.5,160.4 L348.0,160.0 L348.5,160.6 L349.0,160.6 L349.5,160.4 L350.0,160.8 L350.5,160.9 L351.0,160.1 L351.5,160.7 L352.0,160.5 L352.5,160.5 L353.0,160.6 L353.5,160.2 L354.0,160.3 L354.5,160.2 L355.0,160.2 L355.5,160.4 L356.0,160.0 L356.5,160.1 L357.0,160.5 L357.5,160.4 L358.0,160.5 L358.5,159.9 L359.0,160.2 L359.5,160.3 L360.0,160.4 L360.5,160.3 L361.0,160.6 L361.5,160.4 L362.0,160.4 L362.5,160.4 L363.0,160.6 L363.5,160.3 L364.0,160.7 L364.5,160.5 L365.0,160.4 L365.5,160.4 L366.0,160.5 L366.5,160.7 L367.0,160.6 L367.5,160.5 L368.0,160.6 L368.5,159.9 L369.0,159.6 L369.5,158.8 L370.0,157.8 L370.5,158.2 L371.0,157.4 L371.5,156.6 L372.0,156.4 L372.5,155.7 L373.0,156.0 L373.5,155.2 L374.0,154.3 L374.5,154.4 L375.0,153.8 L375.5,153.9 L376.0,152.8 L376.5,152.1 L377.0,152.4 L377.5,151.9 L378.0,151.5 L378.5,150.8 L379.0,151.1 L379.5,151.0 L380.0,149.8 L380.5,150.3 L381.0,149.5 L381.5,150.0 L382.0,149.2 L382.5,148.8 L383.0,148.8 L383.5,148.4 L384.0,147.8 L384.5,147.9 L385.0,147.4 L385.5,146.8 L386.0,147.5 L386.5,146.7 L387.0,146.4 L387.5,146.4 L388.0,145.7 L388.5,145.5 L389.0,145.5 L389.5,145.3 L390.0,145.2 L390.5,145.3 L391.0,144.7 L391.5,144.8 L392.0,144.6 L392.5,144.0 L393.0,144.2 L393.5,143.7 L394.0,144.0 L394.5,143.7 L395.0,143.4 L395.5,142.9 L396.0,143.2 L396.5,142.8 L397.0,143.0 L397.5,142.6 L398.0,142.3 L398.5,142.6 L399.0,142.4 L399.5,142.0 L400.0,142.3 L400.5,141.8 L401.0,141.7 L401.5,141.7 L402.0,141.3 L402.5,141.3 L403.0,141.2 L403.5,141.6 L404.0,141.4 L404.5,140.9 L405.0,141.3 L405.5,140.8 L406.0,140.8 L406.5,140.8 L407.0,140.5 L407.5,141.0 L408.0,140.4 L408.5,139.9 L409.0,140.4 L409.5,139.9 L410.0,139.9 L410.5,139.1 L411.0,140.0 L411.5,139.9 L412.0,139.8 L412.5,139.8 L413.0,139.9 L413.5,139.4 L414.0,139.6 L414.5,139.1 L415.0,139.1 L415.5,139.4 L416.0,139.2 L416.5,138.7 L417.0,139.1 L417.5,138.9 L418.0,138.7 L418.5,138.9 L419.0,138.7 L419.5,138.3 L420.0,138.4 L420.5,139.0 L421.0,138.2 L421.5,138.6 L422.0,138.6 L422.5,138.6 L423.0,138.1 L423.5,138.2 L424.0,138.3 L424.5,138.4 L425.0,138.0 L425.5,137.9 L426.0,138.4 L426.5,138.4 L427.0,138.1 L427.5,137.9 L428.0,138.1 L428.5,138.0 L429.0,138.1 L429.5,137.6 L430.0,137.9 L430.5,137.8 L431.0,137.5 L431.5,137.8 L432.0,137.7 L432.5,137.6 L433.0,137.7 L433.5,137.3 L434.0,137.6 L434.5,137.7 L435.0,137.6 L435.5,137.8 L436.0,137.2 L436.5,137.1 L437.0,137.5 L437.5,137.2 L438.0,135.5 L438.5,135.1 L439.0,134.7 L439.5,135.1 L440.0,134.6 L440.5,134.4 L441.0,135.4 L441.5,134.8 L442.0,134.8 L442.5,134.8 L443.0,135.0 L443.5,134.6 L444.0,134.8 L444.5,134.2 L445.0,134.0 L445.5,134.7 L446.0,134.7 L446.5,134.4 L447.0,134.3 L447.5,134.2 L448.0,134.0 L448.5,134.5 L449.0,134.2 L449.5,134.1 L450.0,134.1 L450.5,134.2 L451.0,134.0 L451.5,134.0 L452.0,133.5 L452.5,133.9 L453.0,134.3 L453.5,133.5 L454.0,133.6 L454.5,133.8 L455.0,133.8 L455.5,133.7 L456.0,133.0 L456.5,133.5 L457.0,133.1 L457.5,133.1 L458.0,133.4 L458.5,133.2 L459.0,133.4 L459.5,133.9 L460.0,133.3 L460.5,133.3 L461.0,132.8 L461.5,132.8 L462.0,132.7 L462.5,132.8 L463.0,132.6 L463.5,132.7 L464.0,132.7 L464.5,132.5 L465.0,132.3 L465.5,132.3 L466.0,132.7 L466.5,132.6 L467.0,132.8 L467.5,132.7 L468.0,132.4 L468.5,132.6 L469.0,132.0 L469.5,132.9 L470.0,132.6 L470.5,132.2 L471.0,131.9 L471.5,132.2 L472.0,131.6 L472.5,131.9 L473.0,132.2 L473.5,132.0 L474.0,131.8 L474.5,132.1 L475.0,131.6 L475.5,131.9 L476.0,131.6 L476.5,131.5 L477.0,131.8 L477.5,131.4 L478.0,132.1 L478.5,131.4 L479.0,132.0 L479.5,131.2 L480.0,131.6 L480.5,131.1 L481.0,131.0 L481.5,131.3 L482.0,131.5 L482.5,131.0 L483.0,131.5 L483.5,131.0 L484.0,131.2 L484.5,131.3 L485.0,131.3 L485.5,130.7 L486.0,131.6 L486.5,131.3 L487.0,131.0 L487.5,130.8 L488.0,130.7 L488.5,130.7 L489.0,131.2 L489.5,130.9 L490.0,130.7 L490.5,130.9 L491.0,131.4 L491.5,130.9 L492.0,130.8 L492.5,131.3 L493.0,131.0 L493.5,130.9 L494.0,130.7 L494.5,130.5 L495.0,130.5 L495.5,130.7 L496.0,130.7 L496.5,130.9 L497.0,130.9 L497.5,130.8 L498.0,130.8 L498.5,130.5 L499.0,130.2 L499.5,130.5 L500.0,130.4 L500.5,130.5 L501.0,130.6 L501.5,130.3 L502.0,130.3 L502.5,130.5 L503.0,130.6 L503.5,130.4 L504.0,130.6 L504.5,130.4 L505.0,130.2 L505.5,130.5 L506.0,130.9 L506.5,130.3 L507.0,130.7 L507.5,130.7" fill="none" stroke="#d98208" stroke-width="1.7" stroke-linejoin="round" stroke-linecap="round" opacity="1.0"/>
<path d="M331.0,163.1 L331.5,163.2 L332.0,163.1 L332.5,162.8 L333.0,163.1 L333.5,162.7 L334.0,162.6 L334.5,162.9 L335.0,159.9 L335.5,158.3 L336.0,158.4 L336.5,158.6 L337.0,158.6 L337.5,158.5 L338.0,158.9 L338.5,158.9 L339.0,159.1 L339.5,158.6 L340.0,158.9 L340.5,158.6 L341.0,158.2 L341.5,157.7 L342.0,158.2 L342.5,158.0 L343.0,157.9 L343.5,158.4 L344.0,158.8 L344.5,158.8 L345.0,158.7 L345.5,158.8 L346.0,158.9 L346.5,158.5 L347.0,158.2 L347.5,158.5 L348.0,158.8 L348.5,158.4 L349.0,158.0 L349.5,157.9 L350.0,157.5 L350.5,157.2 L351.0,157.5 L351.5,158.0 L352.0,158.2 L352.5,158.4 L353.0,158.2 L353.5,158.1 L354.0,158.0 L354.5,158.7 L355.0,158.8 L355.5,158.9 L356.0,158.7 L356.5,158.7 L357.0,157.9 L357.5,157.5 L358.0,157.6 L358.5,158.0 L359.0,158.0 L359.5,158.1 L360.0,158.0 L360.5,157.9 L361.0,157.7 L361.5,157.8 L362.0,158.2 L362.5,158.3 L363.0,158.8 L363.5,158.8 L364.0,158.9 L364.5,158.3 L365.0,158.1 L365.5,158.1 L366.0,158.3 L366.5,158.3 L367.0,158.9 L367.5,159.1 L368.0,158.9 L368.5,158.5 L369.0,158.6 L369.5,158.5 L370.0,158.6 L370.5,158.6 L371.0,158.8 L371.5,158.7 L372.0,158.5 L372.5,158.9 L373.0,159.0 L373.5,158.9 L374.0,159.1 L374.5,159.5 L375.0,159.1 L375.5,159.2 L376.0,159.0 L376.5,158.5 L377.0,157.9 L377.5,158.1 L378.0,157.7 L378.5,158.0 L379.0,158.0 L379.5,158.2 L380.0,158.0 L380.5,158.4 L381.0,158.4 L381.5,158.9 L382.0,159.2 L382.5,159.4 L383.0,159.2 L383.5,159.2 L384.0,158.9 L384.5,158.7 L385.0,158.6 L385.5,158.7 L386.0,158.6 L386.5,158.6 L387.0,158.6 L387.5,158.5 L388.0,158.6 L388.5,158.3 L389.0,158.1 L389.5,158.5 L390.0,158.1 L390.5,157.8 L391.0,158.3 L391.5,158.1 L392.0,158.3 L392.5,158.3 L393.0,158.7 L393.5,158.9 L394.0,159.4 L394.5,158.8 L395.0,159.4 L395.5,159.0 L396.0,158.8 L396.5,158.4 L397.0,158.4 L397.5,158.5 L398.0,158.5 L398.5,158.2 L399.0,158.5 L399.5,158.3 L400.0,158.3 L400.5,158.6 L401.0,158.4 L401.5,158.3 L402.0,158.5 L402.5,158.1 L403.0,158.0 L403.5,158.2 L404.0,158.4 L404.5,158.4 L405.0,158.8 L405.5,158.7 L406.0,159.0 L406.5,158.7 L407.0,158.8 L407.5,158.4 L408.0,158.5 L408.5,158.5 L409.0,159.0 L409.5,159.4 L410.0,159.7 L410.5,159.5 L411.0,159.4 L411.5,159.0 L412.0,159.0 L412.5,159.2 L413.0,159.0 L413.5,158.8 L414.0,159.1 L414.5,158.9 L415.0,158.6 L415.5,159.0 L416.0,159.1 L416.5,158.8 L417.0,158.6 L417.5,158.3 L418.0,158.2 L418.5,158.0 L419.0,158.0 L419.5,157.9 L420.0,158.5 L420.5,158.3 L421.0,158.5 L421.5,158.3 L422.0,158.4 L422.5,158.0 L423.0,158.1 L423.5,158.1 L424.0,158.5 L424.5,158.9 L425.0,159.3 L425.5,159.4 L426.0,159.3 L426.5,159.3 L427.0,159.1 L427.5,159.2 L428.0,158.8 L428.5,159.0 L429.0,159.1 L429.5,159.1 L430.0,159.0 L430.5,159.0 L431.0,158.6 L431.5,158.8 L432.0,158.7 L432.5,158.3 L433.0,158.7 L433.5,158.8 L434.0,158.1 L434.5,157.6 L435.0,157.5 L435.5,157.5 L436.0,157.6 L436.5,158.4 L437.0,159.9 L437.5,161.4 L438.0,161.2 L438.5,161.1 L439.0,160.9 L439.5,160.6 L440.0,160.2 L440.5,160.5 L441.0,160.3 L441.5,159.8 L442.0,159.2 L442.5,158.8 L443.0,157.6 L443.5,156.2 L444.0,155.4 L444.5,154.5 L445.0,153.2 L445.5,152.1 L446.0,151.4 L446.5,150.0 L447.0,148.4 L447.5,146.9 L448.0,145.8 L448.5,144.4 L449.0,143.4 L449.5,142.3 L450.0,141.2 L450.5,139.8 L451.0,138.4 L451.5,136.6 L452.0,134.9 L452.5,133.5 L453.0,131.9 L453.5,130.4 L454.0,129.4 L454.5,128.4 L455.0,126.9 L455.5,126.2 L456.0,124.6 L456.5,123.7 L457.0,123.2 L457.5,122.2 L458.0,121.0 L458.5,120.7 L459.0,120.0 L459.5,118.4 L460.0,117.6 L460.5,116.7 L461.0,115.8 L461.5,114.6 L462.0,114.1 L462.5,113.1 L463.0,112.2 L463.5,111.1 L464.0,110.0 L464.5,109.0 L465.0,108.2 L465.5,107.2 L466.0,107.0 L466.5,106.4 L467.0,105.4 L467.5,105.0 L468.0,104.5 L468.5,103.7 L469.0,103.3 L469.5,103.2 L470.0,102.7 L470.5,102.4 L471.0,102.0 L471.5,102.1 L472.0,101.3 L472.5,101.0 L473.0,101.0 L473.5,100.4 L474.0,99.5 L474.5,100.1 L475.0,99.7 L475.5,99.8 L476.0,99.8 L476.5,99.8 L477.0,99.2 L477.5,99.2 L478.0,98.7 L478.5,98.4 L479.0,98.1 L479.5,97.8 L480.0,97.6 L480.5,97.2 L481.0,96.6 L481.5,96.2 L482.0,95.9 L482.5,95.2 L483.0,94.6 L483.5,94.4 L484.0,94.1 L484.5,93.9 L485.0,93.9 L485.5,93.7 L486.0,94.0 L486.5,93.8 L487.0,94.1 L487.5,93.8 L488.0,93.7 L488.5,92.9 L489.0,92.1 L489.5,91.2 L490.0,90.7 L490.5,90.8 L491.0,90.4 L491.5,91.1 L492.0,90.8 L492.5,90.7 L493.0,89.5 L493.5,89.6 L494.0,88.9 L494.5,88.9 L495.0,88.5 L495.5,88.6 L496.0,88.5 L496.5,88.5 L497.0,88.3 L497.5,88.2 L498.0,88.5 L498.5,88.1 L499.0,87.4 L499.5,86.8 L500.0,86.7 L500.5,86.4 L501.0,86.2 L501.5,86.1 L502.0,86.2 L502.5,85.7 L503.0,85.3 L503.5,84.9 L504.0,85.3 L504.5,85.1 L505.0,84.8 L505.5,84.4 L506.0,84.2 L506.5,83.7 L507.0,83.4 L507.5,83.3" fill="none" stroke="#22187c" stroke-width="1.8" stroke-linejoin="round" stroke-linecap="round" opacity="1.0"/>
<path d="M331.0,162.7 L331.5,162.7 L332.0,162.5 L332.5,162.6 L333.0,162.7 L333.5,163.1 L334.0,163.0 L334.5,163.2 L335.0,160.2 L335.5,158.8 L336.0,158.1 L336.5,158.1 L337.0,158.1 L337.5,158.0 L338.0,158.0 L338.5,158.5 L339.0,158.8 L339.5,158.9 L340.0,158.8 L340.5,158.8 L341.0,158.7 L341.5,158.7 L342.0,158.6 L342.5,158.7 L343.0,158.7 L343.5,158.4 L344.0,158.0 L344.5,158.1 L345.0,158.1 L345.5,158.5 L346.0,158.8 L346.5,159.1 L347.0,159.2 L347.5,159.3 L348.0,158.9 L348.5,158.9 L349.0,158.7 L349.5,158.3 L350.0,158.2 L350.5,158.5 L351.0,158.5 L351.5,158.8 L352.0,158.9 L352.5,158.8 L353.0,158.6 L353.5,158.6 L354.0,158.3 L354.5,158.3 L355.0,158.7 L355.5,158.8 L356.0,159.1 L356.5,158.9 L357.0,158.7 L357.5,158.4 L358.0,158.1 L358.5,158.2 L359.0,158.2 L359.5,158.8 L360.0,158.9 L360.5,159.2 L361.0,159.1 L361.5,159.2 L362.0,159.0 L362.5,159.0 L363.0,158.8 L363.5,158.8 L364.0,159.2 L364.5,159.1 L365.0,158.9 L365.5,158.9 L366.0,158.6 L366.5,158.3 L367.0,158.3 L367.5,158.4 L368.0,158.9 L368.5,159.6 L369.0,159.2 L369.5,159.4 L370.0,159.5 L370.5,159.2 L371.0,158.9 L371.5,159.0 L372.0,159.1 L372.5,159.1 L373.0,159.1 L373.5,159.3 L374.0,159.4 L374.5,159.2 L375.0,159.2 L375.5,159.4 L376.0,159.3 L376.5,159.1 L377.0,158.9 L377.5,158.8 L378.0,158.3 L378.5,158.2 L379.0,158.3 L379.5,158.1 L380.0,158.1 L380.5,158.4 L381.0,158.4 L381.5,158.2 L382.0,158.8 L382.5,158.7 L383.0,158.4 L383.5,158.1 L384.0,158.3 L384.5,158.2 L385.0,158.6 L385.5,158.8 L386.0,158.8 L386.5,158.7 L387.0,158.4 L387.5,158.1 L388.0,157.8 L388.5,158.0 L389.0,158.2 L389.5,158.4 L390.0,158.5 L390.5,158.6 L391.0,158.4 L391.5,158.1 L392.0,158.4 L392.5,158.5 L393.0,158.6 L393.5,159.0 L394.0,159.1 L394.5,159.2 L395.0,159.1 L395.5,159.1 L396.0,159.0 L396.5,158.9 L397.0,158.5 L397.5,158.1 L398.0,158.2 L398.5,158.1 L399.0,158.2 L399.5,158.3 L400.0,158.8 L400.5,158.7 L401.0,158.6 L401.5,158.8 L402.0,159.2 L402.5,159.0 L403.0,158.7 L403.5,158.7 L404.0,158.6 L404.5,158.4 L405.0,158.6 L405.5,158.7 L406.0,158.9 L406.5,158.7 L407.0,158.9 L407.5,158.6 L408.0,159.0 L408.5,158.8 L409.0,158.7 L409.5,158.2 L410.0,158.1 L410.5,157.8 L411.0,158.1 L411.5,158.6 L412.0,158.8 L412.5,158.8 L413.0,158.9 L413.5,158.6 L414.0,158.6 L414.5,158.6 L415.0,158.9 L415.5,158.8 L416.0,158.6 L416.5,158.2 L417.0,158.0 L417.5,157.9 L418.0,158.0 L418.5,158.2 L419.0,158.3 L419.5,158.8 L420.0,158.6 L420.5,158.4 L421.0,158.5 L421.5,158.4 L422.0,158.1 L422.5,158.3 L423.0,158.8 L423.5,158.5 L424.0,158.7 L424.5,158.7 L425.0,158.6 L425.5,158.3 L426.0,158.6 L426.5,158.7 L427.0,158.7 L427.5,158.6 L428.0,158.7 L428.5,158.8 L429.0,158.6 L429.5,158.8 L430.0,158.8 L430.5,158.9 L431.0,158.8 L431.5,158.7 L432.0,158.4 L432.5,158.2 L433.0,158.2 L433.5,158.1 L434.0,158.1 L434.5,158.3 L435.0,158.5 L435.5,158.2 L436.0,158.6 L436.5,159.0 L437.0,159.3 L437.5,159.9 L438.0,160.6 L438.5,160.4 L439.0,160.2 L439.5,158.8 L440.0,157.0 L440.5,155.8 L441.0,154.4 L441.5,152.7 L442.0,151.5 L442.5,150.5 L443.0,148.7 L443.5,147.3 L444.0,145.7 L444.5,143.9 L445.0,141.5 L445.5,140.1 L446.0,138.4 L446.5,136.7 L447.0,135.3 L447.5,134.1 L448.0,132.5 L448.5,130.9 L449.0,128.9 L449.5,126.9 L450.0,125.0 L450.5,123.1 L451.0,121.4 L451.5,119.9 L452.0,118.8 L452.5,117.9 L453.0,116.6 L453.5,115.5 L454.0,114.5 L454.5,113.4 L455.0,112.0 L455.5,111.1 L456.0,110.0 L456.5,109.1 L457.0,107.7 L457.5,106.8 L458.0,105.7 L458.5,104.9 L459.0,104.0 L459.5,103.4 L460.0,102.4 L460.5,101.9 L461.0,100.8 L461.5,100.2 L462.0,99.3 L462.5,98.7 L463.0,98.0 L463.5,97.7 L464.0,96.7 L464.5,96.2 L465.0,95.4 L465.5,95.1 L466.0,94.1 L466.5,93.8 L467.0,93.0 L467.5,93.1 L468.0,92.2 L468.5,92.1 L469.0,91.8 L469.5,91.4 L470.0,90.6 L470.5,90.6 L471.0,90.1 L471.5,90.0 L472.0,89.9 L472.5,89.7 L473.0,89.1 L473.5,88.9 L474.0,88.7 L474.5,88.5 L475.0,88.2 L475.5,87.9 L476.0,87.4 L476.5,87.0 L477.0,86.4 L477.5,85.9 L478.0,85.8 L478.5,85.5 L479.0,85.3 L479.5,84.8 L480.0,84.8 L480.5,84.7 L481.0,84.3 L481.5,83.6 L482.0,83.9 L482.5,83.8 L483.0,83.3 L483.5,83.0 L484.0,83.0 L484.5,82.9 L485.0,82.3 L485.5,81.8 L486.0,82.0 L486.5,81.5 L487.0,81.2 L487.5,80.9 L488.0,81.0 L488.5,80.3 L489.0,80.4 L489.5,80.1 L490.0,79.5 L490.5,79.1 L491.0,79.3 L491.5,78.7 L492.0,78.0 L492.5,78.1 L493.0,78.1 L493.5,77.5 L494.0,77.3 L494.5,77.3 L495.0,77.0 L495.5,76.9 L496.0,76.6 L496.5,76.5 L497.0,76.3 L497.5,76.4 L498.0,76.3 L498.5,76.2 L499.0,76.2 L499.5,76.1 L500.0,75.9 L500.5,75.8 L501.0,75.9 L501.5,75.9 L502.0,75.6 L502.5,75.2 L503.0,75.1 L503.5,74.7 L504.0,74.3 L504.5,73.9 L505.0,73.4 L505.5,73.2 L506.0,73.1 L506.5,73.1 L507.0,73.2 L507.5,73.3" fill="none" stroke="#0a0a0a" stroke-width="1.8" stroke-linejoin="round" stroke-linecap="round" opacity="1.0"/>
<path d="M331.0,162.4 L331.5,162.5 L332.0,162.6 L332.5,162.7 L333.0,162.3 L333.5,161.9 L334.0,161.5 L334.5,160.9 L335.0,158.4 L335.5,157.2 L336.0,158.0 L336.5,158.4 L337.0,158.7 L337.5,158.7 L338.0,158.6 L338.5,158.5 L339.0,158.5 L339.5,158.4 L340.0,158.3 L340.5,158.4 L341.0,158.2 L341.5,158.3 L342.0,159.0 L342.5,158.9 L343.0,158.8 L343.5,158.3 L344.0,158.0 L344.5,157.5 L345.0,157.0 L345.5,157.2 L346.0,157.9 L346.5,157.8 L347.0,157.8 L347.5,158.1 L348.0,158.2 L348.5,157.7 L349.0,157.8 L349.5,158.4 L350.0,158.7 L350.5,158.6 L351.0,159.0 L351.5,158.8 L352.0,158.2 L352.5,158.3 L353.0,157.9 L353.5,158.1 L354.0,158.7 L354.5,159.0 L355.0,158.5 L355.5,158.5 L356.0,158.0 L356.5,157.9 L357.0,157.8 L357.5,158.4 L358.0,158.5 L358.5,158.6 L359.0,158.3 L359.5,158.2 L360.0,157.8 L360.5,158.0 L361.0,158.5 L361.5,158.6 L362.0,158.3 L362.5,157.9 L363.0,157.8 L363.5,157.7 L364.0,157.6 L364.5,157.8 L365.0,158.1 L365.5,158.4 L366.0,158.3 L366.5,158.4 L367.0,158.3 L367.5,158.3 L368.0,158.2 L368.5,157.9 L369.0,157.6 L369.5,157.7 L370.0,158.2 L370.5,158.2 L371.0,158.9 L371.5,159.2 L372.0,159.2 L372.5,158.5 L373.0,158.3 L373.5,158.3 L374.0,158.4 L374.5,158.7 L375.0,159.3 L375.5,159.4 L376.0,159.0 L376.5,158.9 L377.0,158.9 L377.5,158.9 L378.0,159.0 L378.5,159.1 L379.0,158.9 L379.5,158.6 L380.0,158.2 L380.5,158.4 L381.0,157.8 L381.5,157.9 L382.0,158.6 L382.5,158.8 L383.0,158.2 L383.5,158.8 L384.0,159.2 L384.5,158.5 L385.0,158.8 L385.5,159.1 L386.0,159.0 L386.5,159.5 L387.0,159.6 L387.5,159.3 L388.0,159.1 L388.5,159.3 L389.0,158.6 L389.5,158.8 L390.0,158.9 L390.5,158.7 L391.0,158.7 L391.5,158.5 L392.0,158.3 L392.5,157.8 L393.0,158.1 L393.5,157.7 L394.0,157.8 L394.5,157.5 L395.0,157.9 L395.5,158.1 L396.0,158.0 L396.5,157.8 L397.0,158.0 L397.5,158.2 L398.0,157.5 L398.5,157.7 L399.0,157.4 L399.5,157.5 L400.0,157.5 L400.5,158.0 L401.0,158.2 L401.5,158.4 L402.0,159.0 L402.5,159.0 L403.0,159.5 L403.5,159.1 L404.0,159.0 L404.5,158.8 L405.0,158.5 L405.5,158.1 L406.0,158.6 L406.5,158.6 L407.0,158.5 L407.5,158.5 L408.0,158.7 L408.5,158.5 L409.0,158.9 L409.5,158.5 L410.0,158.8 L410.5,159.0 L411.0,159.4 L411.5,159.4 L412.0,159.7 L412.5,158.8 L413.0,158.7 L413.5,158.4 L414.0,158.3 L414.5,158.0 L415.0,158.4 L415.5,158.0 L416.0,158.2 L416.5,158.6 L417.0,158.5 L417.5,158.6 L418.0,159.2 L418.5,158.8 L419.0,158.9 L419.5,159.1 L420.0,159.1 L420.5,159.0 L421.0,159.7 L421.5,158.8 L422.0,159.2 L422.5,159.3 L423.0,159.5 L423.5,158.9 L424.0,158.9 L424.5,158.6 L425.0,158.9 L425.5,159.1 L426.0,159.6 L426.5,160.3 L427.0,160.1 L427.5,159.7 L428.0,159.0 L428.5,158.3 L429.0,158.1 L429.5,157.5 L430.0,157.7 L430.5,157.7 L431.0,158.7 L431.5,158.9 L432.0,159.5 L432.5,159.6 L433.0,159.3 L433.5,158.4 L434.0,157.7 L434.5,158.2 L435.0,158.2 L435.5,158.3 L436.0,158.4 L436.5,159.3 L437.0,159.2 L437.5,159.4 L438.0,159.7 L438.5,159.6 L439.0,159.1 L439.5,158.4 L440.0,157.0 L440.5,155.6 L441.0,153.9 L441.5,150.6 L442.0,148.0 L442.5,145.9 L443.0,144.0 L443.5,141.9 L444.0,140.0 L444.5,137.6 L445.0,134.9 L445.5,132.1 L446.0,129.4 L446.5,127.3 L447.0,125.2 L447.5,124.0 L448.0,122.3 L448.5,120.4 L449.0,118.5 L449.5,116.5 L450.0,114.3 L450.5,112.4 L451.0,111.2 L451.5,109.2 L452.0,108.0 L452.5,106.3 L453.0,105.6 L453.5,103.8 L454.0,103.0 L454.5,101.2 L455.0,100.2 L455.5,98.9 L456.0,97.8 L456.5,96.3 L457.0,95.5 L457.5,93.8 L458.0,92.5 L458.5,91.9 L459.0,90.6 L459.5,90.0 L460.0,89.5 L460.5,88.2 L461.0,87.3 L461.5,86.7 L462.0,86.4 L462.5,85.6 L463.0,85.5 L463.5,85.3 L464.0,84.5 L464.5,83.0 L465.0,83.1 L465.5,82.4 L466.0,81.9 L466.5,82.4 L467.0,82.4 L467.5,81.7 L468.0,80.7 L468.5,80.4 L469.0,79.5 L469.5,79.4 L470.0,79.5 L470.5,79.5 L471.0,79.7 L471.5,79.9 L472.0,79.8 L472.5,79.2 L473.0,79.1 L473.5,78.3 L474.0,77.6 L474.5,76.8 L475.0,77.0 L475.5,76.9 L476.0,77.0 L476.5,76.7 L477.0,77.1 L477.5,76.8 L478.0,75.8 L478.5,75.3 L479.0,75.2 L479.5,74.9 L480.0,74.6 L480.5,75.0 L481.0,74.8 L481.5,74.8 L482.0,74.3 L482.5,74.0 L483.0,73.7 L483.5,73.9 L484.0,73.5 L484.5,73.0 L485.0,73.2 L485.5,73.2 L486.0,73.0 L486.5,73.2 L487.0,73.8 L487.5,73.9 L488.0,73.8 L488.5,73.6 L489.0,73.1 L489.5,73.1 L490.0,72.9 L490.5,73.4 L491.0,73.2 L491.5,73.0 L492.0,72.9 L492.5,72.7 L493.0,72.3 L493.5,72.3 L494.0,73.0 L494.5,72.6 L495.0,72.1 L495.5,72.3 L496.0,72.1 L496.5,71.7 L497.0,72.0 L497.5,72.6 L498.0,72.2 L498.5,71.7 L499.0,71.8 L499.5,71.5 L500.0,71.1 L500.5,70.8 L501.0,71.1 L501.5,70.6 L502.0,70.5 L502.5,70.7 L503.0,71.2 L503.5,71.2 L504.0,71.5 L504.5,71.6 L505.0,71.2 L505.5,70.8 L506.0,71.5 L506.5,71.5 L507.0,71.3 L507.5,71.4" fill="none" stroke="#aca464" stroke-width="2.4" stroke-linejoin="round" stroke-linecap="round" opacity="1.0"/>
<path d="M331.0,162.4 L331.5,162.0 L332.0,162.0 L332.5,162.0 L333.0,162.7 L333.5,163.0 L334.0,163.7 L334.5,163.7 L335.0,160.1 L335.5,158.1 L336.0,158.0 L336.5,157.6 L337.0,157.8 L337.5,157.7 L338.0,157.3 L338.5,156.8 L339.0,156.6 L339.5,156.0 L340.0,156.5 L340.5,157.0 L341.0,157.3 L341.5,158.1 L342.0,158.8 L342.5,158.3 L343.0,158.7 L343.5,158.8 L344.0,158.5 L344.5,158.3 L345.0,158.0 L345.5,157.4 L346.0,157.3 L346.5,157.5 L347.0,157.3 L347.5,157.6 L348.0,158.1 L348.5,158.5 L349.0,158.5 L349.5,159.0 L350.0,158.9 L350.5,158.6 L351.0,158.3 L351.5,158.0 L352.0,157.5 L352.5,158.1 L353.0,158.1 L353.5,157.7 L354.0,157.9 L354.5,158.6 L355.0,158.2 L355.5,158.5 L356.0,158.7 L356.5,158.4 L357.0,157.7 L357.5,157.7 L358.0,157.9 L358.5,157.7 L359.0,158.2 L359.5,158.2 L360.0,158.1 L360.5,157.9 L361.0,158.3 L361.5,158.0 L362.0,157.8 L362.5,158.0 L363.0,157.5 L363.5,158.0 L364.0,157.9 L364.5,158.4 L365.0,158.0 L365.5,158.1 L366.0,157.1 L366.5,157.4 L367.0,157.3 L367.5,157.7 L368.0,157.7 L368.5,157.9 L369.0,158.0 L369.5,157.8 L370.0,157.2 L370.5,157.4 L371.0,157.3 L371.5,156.8 L372.0,157.3 L372.5,157.6 L373.0,157.7 L373.5,157.8 L374.0,158.4 L374.5,158.5 L375.0,158.6 L375.5,158.3 L376.0,158.2 L376.5,157.9 L377.0,157.8 L377.5,157.6 L378.0,157.9 L378.5,157.8 L379.0,157.5 L379.5,156.7 L380.0,157.6 L380.5,157.4 L381.0,157.8 L381.5,157.9 L382.0,158.7 L382.5,157.5 L383.0,157.5 L383.5,158.0 L384.0,158.1 L384.5,157.8 L385.0,158.6 L385.5,158.4 L386.0,157.8 L386.5,158.1 L387.0,158.2 L387.5,158.1 L388.0,158.2 L388.5,158.3 L389.0,158.1 L389.5,158.4 L390.0,158.5 L390.5,158.5 L391.0,157.8 L391.5,158.0 L392.0,157.8 L392.5,157.4 L393.0,156.9 L393.5,157.2 L394.0,157.3 L394.5,156.8 L395.0,156.9 L395.5,157.5 L396.0,158.2 L396.5,157.9 L397.0,158.2 L397.5,158.1 L398.0,158.5 L398.5,158.5 L399.0,158.5 L399.5,158.1 L400.0,158.1 L400.5,157.8 L401.0,157.3 L401.5,157.6 L402.0,158.0 L402.5,158.3 L403.0,158.3 L403.5,158.7 L404.0,158.2 L404.5,158.0 L405.0,158.6 L405.5,158.1 L406.0,157.8 L406.5,158.3 L407.0,158.4 L407.5,157.5 L408.0,157.5 L408.5,157.8 L409.0,157.8 L409.5,158.2 L410.0,158.4 L410.5,159.1 L411.0,158.6 L411.5,158.4 L412.0,157.9 L412.5,157.9 L413.0,157.8 L413.5,158.4 L414.0,158.1 L414.5,158.6 L415.0,158.4 L415.5,158.0 L416.0,157.6 L416.5,157.5 L417.0,157.2 L417.5,157.4 L418.0,157.6 L418.5,157.8 L419.0,158.1 L419.5,158.1 L420.0,157.6 L420.5,157.7 L421.0,157.3 L421.5,157.3 L422.0,157.3 L422.5,157.7 L423.0,157.3 L423.5,157.1 L424.0,157.1 L424.5,157.3 L425.0,157.3 L425.5,158.0 L426.0,158.8 L426.5,159.0 L427.0,158.9 L427.5,158.5 L428.0,158.0 L428.5,157.6 L429.0,157.5 L429.5,157.6 L430.0,157.9 L430.5,158.1 L431.0,158.4 L431.5,158.4 L432.0,158.4 L432.5,158.5 L433.0,158.4 L433.5,158.0 L434.0,158.0 L434.5,158.1 L435.0,157.9 L435.5,158.0 L436.0,158.9 L436.5,159.1 L437.0,159.5 L437.5,159.5 L438.0,159.0 L438.5,158.0 L439.0,158.1 L439.5,157.3 L440.0,155.0 L440.5,152.1 L441.0,149.2 L441.5,146.3 L442.0,143.5 L442.5,140.7 L443.0,138.3 L443.5,136.3 L444.0,133.7 L444.5,131.5 L445.0,128.6 L445.5,126.3 L446.0,123.9 L446.5,121.6 L447.0,119.4 L447.5,118.2 L448.0,116.6 L448.5,114.4 L449.0,112.9 L449.5,111.5 L450.0,110.6 L450.5,109.6 L451.0,108.0 L451.5,106.6 L452.0,105.3 L452.5,103.4 L453.0,101.7 L453.5,101.0 L454.0,100.0 L454.5,98.7 L455.0,98.5 L455.5,98.3 L456.0,97.7 L456.5,96.8 L457.0,96.5 L457.5,95.2 L458.0,94.2 L458.5,93.4 L459.0,92.9 L459.5,92.9 L460.0,92.9 L460.5,92.3 L461.0,92.0 L461.5,90.9 L462.0,89.4 L462.5,88.6 L463.0,87.9 L463.5,87.2 L464.0,87.1 L464.5,87.4 L465.0,87.5 L465.5,87.5 L466.0,86.9 L466.5,86.8 L467.0,86.2 L467.5,85.2 L468.0,84.8 L468.5,84.8 L469.0,84.4 L469.5,84.3 L470.0,84.7 L470.5,84.1 L471.0,83.7 L471.5,83.2 L472.0,82.7 L472.5,81.9 L473.0,82.2 L473.5,82.0 L474.0,82.3 L474.5,81.9 L475.0,81.6 L475.5,81.6 L476.0,81.3 L476.5,81.3 L477.0,81.3 L477.5,81.8 L478.0,81.7 L478.5,81.7 L479.0,81.6 L479.5,81.0 L480.0,81.0 L480.5,80.3 L481.0,80.1 L481.5,79.7 L482.0,80.1 L482.5,80.2 L483.0,79.7 L483.5,79.7 L484.0,79.5 L484.5,79.6 L485.0,79.0 L485.5,79.6 L486.0,79.4 L486.5,79.8 L487.0,79.7 L487.5,79.7 L488.0,79.5 L488.5,79.2 L489.0,79.1 L489.5,79.0 L490.0,78.9 L490.5,79.2 L491.0,79.0 L491.5,78.4 L492.0,77.7 L492.5,77.7 L493.0,77.4 L493.5,77.9 L494.0,78.3 L494.5,78.9 L495.0,78.9 L495.5,78.5 L496.0,78.2 L496.5,78.7 L497.0,77.9 L497.5,77.9 L498.0,78.6 L498.5,79.1 L499.0,78.2 L499.5,78.8 L500.0,79.1 L500.5,79.0 L501.0,78.6 L501.5,79.0 L502.0,79.1 L502.5,79.1 L503.0,79.1 L503.5,79.3 L504.0,78.7 L504.5,78.7 L505.0,78.8 L505.5,78.6 L506.0,78.8 L506.5,79.8 L507.0,79.7 L507.5,79.2" fill="none" stroke="#1e92c2" stroke-width="2.4" stroke-linejoin="round" stroke-linecap="round" opacity="1.0"/>
<path d="M71.9,438.5 L72.4,438.6 L72.9,438.6 L73.4,439.1 L73.9,438.7 L74.4,438.7 L74.9,438.3 L75.4,438.4 L75.9,438.0 L76.4,438.3 L76.9,438.1 L77.4,438.4 L77.9,438.5 L78.4,438.6 L78.9,438.6 L79.4,438.9 L79.9,438.9 L80.4,438.3 L80.9,438.5 L81.4,438.4 L81.9,438.4 L82.4,437.9 L82.9,437.7 L83.4,436.8 L83.9,436.4 L84.4,436.1 L84.9,436.2 L85.4,435.9 L85.9,435.7 L86.4,435.4 L86.9,434.4 L87.4,433.7 L87.9,433.1 L88.4,432.2 L88.9,431.6 L89.4,431.6 L89.9,431.2 L90.4,430.8 L90.9,430.9 L91.4,430.6 L91.9,430.3 L92.4,430.0 L92.9,429.4 L93.4,428.5 L93.9,428.2 L94.4,427.1 L94.9,426.3 L95.4,426.2 L95.9,426.4 L96.4,425.2 L96.9,424.7 L97.4,424.1 L97.9,422.7 L98.4,421.6 L98.9,420.5 L99.4,418.9 L99.9,417.4 L100.4,416.3 L100.9,415.3 L101.4,414.4 L101.9,413.6 L102.4,412.9 L102.9,412.3 L103.4,411.3 L103.9,411.0 L104.4,410.3 L104.9,409.4 L105.4,408.4 L105.9,407.6 L106.4,406.3 L106.9,405.6 L107.4,405.2 L107.9,404.0 L108.4,402.8 L108.9,402.1 L109.4,400.7 L109.9,398.9 L110.4,397.7 L110.9,396.8 L111.4,395.7 L111.9,395.1 L112.4,394.6 L112.9,394.4 L113.4,393.9 L113.9,392.8 L114.4,392.3 L114.9,391.6 L115.4,390.8 L115.9,389.9 L116.4,389.2 L116.9,388.2 L117.4,386.7 L117.9,385.5 L118.4,384.3 L118.9,383.4 L119.4,382.2 L119.9,381.5 L120.4,380.3 L120.9,379.4 L121.4,378.8 L121.9,378.3 L122.4,377.9 L122.9,377.3 L123.4,377.0 L123.9,376.0 L124.4,375.5 L124.9,374.8 L125.4,374.7 L125.9,374.3 L126.4,374.2 L126.9,374.1 L127.4,373.9 L127.9,373.4 L128.4,373.2 L128.9,372.8 L129.4,372.1 L129.9,371.8 L130.4,371.2 L130.9,370.8 L131.4,370.7 L131.9,370.6 L132.4,370.2 L132.9,369.8 L133.4,369.4 L133.9,369.0 L134.4,368.9 L134.9,368.7 L135.4,368.8 L135.9,368.9 L136.4,368.7 L136.9,368.3 L137.4,368.6 L137.9,368.9 L138.4,368.8 L138.9,368.8 L139.4,368.6 L139.9,368.2 L140.4,367.8 L140.9,367.6 L141.4,367.3 L141.9,367.3 L142.4,367.1 L142.9,367.0 L143.4,367.1 L143.9,367.2 L144.4,366.7 L144.9,366.4 L145.4,365.9 L145.9,365.3 L146.4,365.2 L146.9,365.5 L147.4,365.5 L147.9,365.8 L148.4,365.6 L148.9,365.0 L149.4,364.5 L149.9,364.3 L150.4,364.4 L150.9,364.1 L151.4,364.5 L151.9,364.9 L152.4,364.9 L152.9,364.4 L153.4,364.4 L153.9,364.0 L154.4,363.7 L154.9,363.5 L155.4,363.6 L155.9,363.8 L156.4,363.7 L156.9,363.4 L157.4,363.2 L157.9,362.9 L158.4,362.3 L158.9,362.2 L159.4,362.2 L159.9,362.1 L160.4,362.6 L160.9,362.8 L161.4,362.8 L161.9,363.1 L162.4,363.1 L162.9,362.8 L163.4,363.0 L163.9,363.3 L164.4,363.5 L164.9,364.3 L165.4,365.1 L165.9,366.0 L166.4,366.9 L166.9,367.4 L167.4,367.6 L167.9,367.8 L168.4,367.7 L168.9,367.4 L169.4,367.7 L169.9,368.1 L170.4,368.0 L170.9,368.3 L171.4,368.7 L171.9,368.2 L172.4,368.0 L172.9,367.8 L173.4,367.7 L173.9,367.4 L174.4,368.1 L174.9,368.3 L175.4,368.4 L175.9,368.4 L176.4,368.3 L176.9,368.1 L177.4,368.2 L177.9,368.4 L178.4,368.1 L178.9,368.3 L179.4,368.4 L179.9,368.4 L180.4,368.7 L180.9,368.8 L181.4,369.1 L181.9,368.8 L182.4,368.9 L182.9,368.7 L183.4,369.2 L183.9,369.0 L184.4,369.2 L184.9,368.9 L185.4,368.6 L185.9,368.6 L186.4,368.7 L186.9,368.3 L187.4,368.5 L187.9,368.8 L188.4,369.1 L188.9,369.3 L189.4,369.9 L189.9,369.8 L190.4,369.8 L190.9,369.6 L191.4,369.5 L191.9,369.4 L192.4,369.8 L192.9,370.2 L193.4,370.5 L193.9,370.4 L194.4,370.2 L194.9,370.7 L195.4,370.2 L195.9,370.2 L196.4,370.7 L196.9,370.7 L197.4,370.4 L197.9,370.4 L198.4,370.3 L198.9,370.0 L199.4,370.7 L199.9,370.8 L200.4,370.9 L200.9,371.1 L201.4,371.0 L201.9,370.5 L202.4,370.9 L202.9,370.8 L203.4,370.4 L203.9,370.5 L204.4,370.4 L204.9,369.5 L205.4,369.9 L205.9,369.9 L206.4,369.8 L206.9,370.0 L207.4,370.3 L207.9,369.8 L208.4,370.0 L208.9,370.7 L209.4,371.0 L209.9,371.4 L210.4,371.4 L210.9,371.4 L211.4,370.6 L211.9,370.6 L212.4,370.4 L212.9,370.8 L213.4,370.8 L213.9,371.0 L214.4,370.5 L214.9,370.7 L215.4,370.4 L215.9,370.2 L216.4,370.3 L216.9,370.5 L217.4,370.5 L217.9,371.1 L218.4,371.4 L218.9,371.6 L219.4,371.8 L219.9,372.0 L220.4,371.4 L220.9,371.4 L221.4,371.2 L221.9,371.0 L222.4,370.8 L222.9,371.2 L223.4,371.3 L223.9,371.8 L224.4,371.6 L224.9,371.6 L225.4,372.2 L225.9,372.3 L226.4,372.4 L226.9,373.0 L227.4,372.7 L227.9,372.1 L228.4,372.1 L228.9,372.0 L229.4,371.9 L229.9,372.2 L230.4,372.6 L230.9,372.1 L231.4,371.8 L231.9,372.4 L232.4,373.0 L232.9,373.0 L233.4,373.8 L233.9,373.9 L234.4,373.4 L234.9,372.4 L235.4,372.7 L235.9,372.3 L236.4,373.0 L236.9,373.3 L237.4,373.9 L237.9,373.4 L238.4,373.8 L238.9,373.3 L239.4,373.3 L239.9,372.8 L240.4,373.5 L240.9,373.4 L241.4,373.4 L241.9,373.5 L242.4,374.2 L242.9,374.3 L243.4,374.1 L243.9,374.7 L244.4,374.7 L244.9,374.7 L245.4,374.6" fill="none" stroke="#c00008" stroke-width="1.7" stroke-linejoin="round" stroke-linecap="round" opacity="1.0"/>
<path d="M71.5,432.2 L72.0,432.3 L72.5,432.8 L73.0,433.3 L73.5,433.5 L74.0,434.4 L74.5,434.4 L75.0,434.4 L75.5,434.7 L76.0,435.3 L76.5,435.3 L77.0,436.2 L77.5,437.0 L78.0,437.0 L78.5,437.3 L79.0,437.4 L79.5,437.0 L80.0,436.9 L80.5,437.2 L81.0,437.2 L81.5,437.5 L82.0,437.9 L82.5,438.0 L83.0,438.4 L83.5,438.3 L84.0,438.0 L84.5,438.4 L85.0,438.4 L85.5,438.1 L86.0,438.2 L86.5,439.1 L87.0,438.9 L87.5,438.9 L88.0,438.3 L88.5,438.1 L89.0,437.5 L89.5,437.4 L90.0,437.4 L90.5,437.7 L91.0,438.2 L91.5,438.1 L92.0,438.0 L92.5,438.0 L93.0,437.9 L93.5,437.6 L94.0,438.0 L94.5,438.0 L95.0,438.4 L95.5,438.7 L96.0,438.6 L96.5,438.3 L97.0,438.0 L97.5,437.4 L98.0,437.3 L98.5,437.2 L99.0,437.6 L99.5,437.4 L100.0,437.3 L100.5,437.0 L101.0,437.4 L101.5,437.1 L102.0,437.5 L102.5,437.5 L103.0,438.1 L103.5,437.7 L104.0,437.9 L104.5,437.6 L105.0,438.1 L105.5,438.0 L106.0,438.2 L106.5,438.4 L107.0,438.8 L107.5,438.5 L108.0,438.6 L108.5,438.6 L109.0,438.2 L109.5,438.3 L110.0,438.2 L110.5,438.2 L111.0,438.3 L111.5,438.4 L112.0,438.8 L112.5,438.6 L113.0,438.4 L113.5,438.5 L114.0,438.4 L114.5,437.7 L115.0,438.3 L115.5,438.5 L116.0,437.8 L116.5,438.1 L117.0,438.2 L117.5,437.6 L118.0,437.5 L118.5,437.6 L119.0,437.2 L119.5,437.4 L120.0,437.5 L120.5,437.5 L121.0,437.6 L121.5,438.0 L122.0,438.0 L122.5,437.9 L123.0,437.6 L123.5,437.6 L124.0,437.8 L124.5,438.1 L125.0,438.2 L125.5,438.7 L126.0,438.5 L126.5,438.4 L127.0,438.1 L127.5,438.4 L128.0,438.4 L128.5,438.6 L129.0,438.4 L129.5,438.3 L130.0,438.1 L130.5,438.2 L131.0,439.2 L131.5,439.3 L132.0,439.5 L132.5,439.3 L133.0,439.3 L133.5,438.0 L134.0,437.7 L134.5,437.8 L135.0,437.7 L135.5,437.8 L136.0,438.4 L136.5,438.5 L137.0,438.3 L137.5,438.3 L138.0,437.6 L138.5,437.5 L139.0,437.7 L139.5,438.0 L140.0,438.3 L140.5,438.5 L141.0,438.5 L141.5,438.0 L142.0,437.9 L142.5,438.2 L143.0,438.6 L143.5,438.5 L144.0,438.7 L144.5,439.0 L145.0,439.1 L145.5,438.5 L146.0,438.5 L146.5,438.6 L147.0,438.6 L147.5,438.0 L148.0,438.5 L148.5,438.5 L149.0,439.0 L149.5,438.8 L150.0,439.0 L150.5,438.8 L151.0,439.1 L151.5,438.7 L152.0,438.3 L152.5,438.4 L153.0,438.2 L153.5,437.8 L154.0,437.4 L154.5,437.3 L155.0,437.1 L155.5,437.2 L156.0,437.5 L156.5,437.9 L157.0,438.2 L157.5,438.1 L158.0,438.5 L158.5,437.9 L159.0,437.3 L159.5,437.5 L160.0,437.9 L160.5,438.0 L161.0,438.4 L161.5,438.5 L162.0,438.3 L162.5,438.2 L163.0,437.9 L163.5,437.7 L164.0,437.7 L164.5,437.6 L165.0,437.6 L165.5,437.9 L166.0,437.8 L166.5,437.9 L167.0,438.0 L167.5,437.9 L168.0,437.6 L168.5,437.8 L169.0,437.6 L169.5,437.4 L170.0,437.4 L170.5,437.8 L171.0,436.5 L171.5,428.3 L172.0,421.7 L172.5,416.1 L173.0,412.4 L173.5,412.0 L174.0,411.7 L174.5,411.4 L175.0,411.5 L175.5,411.4 L176.0,411.7 L176.5,412.3 L177.0,412.6 L177.5,412.9 L178.0,413.6 L178.5,413.7 L179.0,414.2 L179.5,414.8 L180.0,415.1 L180.5,414.8 L181.0,414.7 L181.5,414.1 L182.0,413.3 L182.5,412.8 L183.0,412.2 L183.5,412.1 L184.0,411.9 L184.5,411.8 L185.0,412.0 L185.5,412.1 L186.0,412.0 L186.5,412.2 L187.0,413.3 L187.5,413.3 L188.0,414.1 L188.5,414.5 L189.0,414.7 L189.5,414.5 L190.0,415.2 L190.5,415.4 L191.0,416.0 L191.5,416.2 L192.0,417.0 L192.5,417.5 L193.0,418.2 L193.5,418.5 L194.0,419.5 L194.5,419.8 L195.0,420.5 L195.5,420.6 L196.0,420.7 L196.5,421.0 L197.0,421.4 L197.5,422.0 L198.0,421.9 L198.5,422.5 L199.0,423.0 L199.5,422.9 L200.0,422.8 L200.5,424.1 L201.0,424.9 L201.5,424.9 L202.0,425.9 L202.5,426.6 L203.0,426.7 L203.5,426.9 L204.0,427.5 L204.5,427.4 L205.0,427.4 L205.5,427.7 L206.0,428.0 L206.5,428.7 L207.0,429.2 L207.5,429.1 L208.0,429.1 L208.5,429.5 L209.0,429.4 L209.5,429.8 L210.0,430.5 L210.5,431.1 L211.0,431.2 L211.5,431.5 L212.0,431.6 L212.5,431.8 L213.0,432.0 L213.5,431.8 L214.0,431.7 L214.5,432.1 L215.0,432.4 L215.5,432.5 L216.0,433.2 L216.5,433.4 L217.0,433.9 L217.5,434.1 L218.0,434.0 L218.5,433.9 L219.0,434.0 L219.5,433.7 L220.0,434.0 L220.5,434.1 L221.0,434.3 L221.5,434.7 L222.0,434.2 L222.5,434.1 L223.0,434.1 L223.5,434.1 L224.0,434.1 L224.5,434.3 L225.0,434.3 L225.5,434.8 L226.0,435.2 L226.5,435.5 L227.0,435.7 L227.5,436.1 L228.0,436.0 L228.5,436.1 L229.0,436.4 L229.5,436.4 L230.0,436.3 L230.5,436.1 L231.0,435.1 L231.5,434.3 L232.0,434.4 L232.5,434.5 L233.0,434.4 L233.5,435.4 L234.0,436.0 L234.5,436.0 L235.0,436.1 L235.5,436.7 L236.0,436.5 L236.5,436.0 L237.0,436.4 L237.5,436.1 L238.0,435.6 L238.5,435.5 L239.0,435.6 L239.5,435.5 L240.0,435.7 L240.5,436.1 L241.0,436.2 L241.5,436.1 L242.0,435.9 L242.5,435.9 L243.0,435.5 L243.5,436.0 L244.0,436.2 L244.5,436.1 L245.0,435.9 L245.5,436.0" fill="none" stroke="#22187c" stroke-width="1.7" stroke-linejoin="round" stroke-linecap="round" opacity="1.0"/>
<path d="M71.5,434.3 L72.0,434.5 L72.5,434.8 L73.0,434.9 L73.5,435.2 L74.0,435.3 L74.5,435.6 L75.0,435.9 L75.5,436.1 L76.0,435.6 L76.5,435.6 L77.0,435.6 L77.5,435.7 L78.0,435.8 L78.5,436.7 L79.0,437.2 L79.5,437.5 L80.0,437.7 L80.5,438.2 L81.0,438.0 L81.5,438.0 L82.0,438.3 L82.5,438.4 L83.0,437.7 L83.5,437.9 L84.0,437.8 L84.5,437.5 L85.0,437.6 L85.5,438.1 L86.0,438.0 L86.5,438.2 L87.0,438.3 L87.5,438.1 L88.0,438.1 L88.5,438.2 L89.0,438.0 L89.5,437.8 L90.0,437.8 L90.5,437.6 L91.0,437.3 L91.5,437.6 L92.0,437.6 L92.5,437.6 L93.0,437.8 L93.5,438.0 L94.0,437.8 L94.5,437.8 L95.0,437.7 L95.5,437.9 L96.0,437.8 L96.5,438.0 L97.0,437.6 L97.5,437.6 L98.0,437.6 L98.5,437.7 L99.0,437.4 L99.5,437.8 L100.0,437.8 L100.5,437.6 L101.0,437.2 L101.5,437.3 L102.0,437.1 L102.5,437.4 L103.0,437.5 L103.5,437.8 L104.0,438.1 L104.5,438.2 L105.0,437.7 L105.5,437.1 L106.0,437.5 L106.5,437.2 L107.0,437.2 L107.5,437.5 L108.0,437.7 L108.5,437.7 L109.0,437.7 L109.5,438.1 L110.0,438.2 L110.5,438.0 L111.0,437.9 L111.5,437.8 L112.0,437.5 L112.5,437.8 L113.0,438.2 L113.5,438.2 L114.0,438.3 L114.5,438.2 L115.0,438.0 L115.5,437.9 L116.0,438.0 L116.5,438.1 L117.0,438.3 L117.5,438.3 L118.0,438.5 L118.5,438.2 L119.0,438.2 L119.5,438.2 L120.0,438.2 L120.5,437.9 L121.0,438.0 L121.5,437.9 L122.0,437.8 L122.5,437.6 L123.0,437.7 L123.5,437.8 L124.0,437.6 L124.5,437.8 L125.0,438.2 L125.5,438.3 L126.0,437.9 L126.5,438.1 L127.0,438.2 L127.5,437.9 L128.0,438.0 L128.5,438.4 L129.0,438.4 L129.5,438.2 L130.0,438.2 L130.5,437.9 L131.0,437.8 L131.5,437.9 L132.0,438.0 L132.5,438.0 L133.0,438.1 L133.5,438.1 L134.0,437.8 L134.5,437.5 L135.0,437.5 L135.5,437.4 L136.0,437.3 L136.5,437.5 L137.0,437.5 L137.5,437.8 L138.0,437.9 L138.5,437.6 L139.0,437.7 L139.5,437.6 L140.0,437.8 L140.5,437.7 L141.0,437.9 L141.5,437.9 L142.0,438.1 L142.5,437.8 L143.0,438.1 L143.5,438.3 L144.0,438.4 L144.5,438.6 L145.0,438.5 L145.5,438.5 L146.0,438.6 L146.5,438.6 L147.0,438.3 L147.5,438.6 L148.0,438.3 L148.5,438.1 L149.0,438.4 L149.5,438.6 L150.0,438.4 L150.5,438.4 L151.0,438.7 L151.5,438.5 L152.0,438.5 L152.5,438.7 L153.0,438.9 L153.5,438.6 L154.0,438.3 L154.5,438.0 L155.0,437.8 L155.5,437.8 L156.0,438.1 L156.5,438.0 L157.0,438.2 L157.5,438.3 L158.0,438.0 L158.5,437.8 L159.0,438.1 L159.5,437.8 L160.0,437.8 L160.5,437.9 L161.0,438.0 L161.5,437.8 L162.0,438.0 L162.5,437.8 L163.0,437.7 L163.5,437.7 L164.0,437.9 L164.5,438.3 L165.0,438.6 L165.5,438.5 L166.0,438.3 L166.5,438.6 L167.0,438.3 L167.5,438.3 L168.0,438.7 L168.5,438.7 L169.0,438.3 L169.5,438.4 L170.0,438.0 L170.5,437.6 L171.0,436.6 L171.5,429.5 L172.0,424.2 L172.5,421.0 L173.0,418.9 L173.5,417.2 L174.0,417.1 L174.5,416.8 L175.0,416.7 L175.5,416.9 L176.0,416.9 L176.5,416.7 L177.0,417.4 L177.5,417.5 L178.0,417.6 L178.5,417.9 L179.0,418.1 L179.5,418.2 L180.0,418.7 L180.5,419.3 L181.0,419.9 L181.5,420.4 L182.0,420.8 L182.5,420.8 L183.0,420.9 L183.5,421.2 L184.0,421.0 L184.5,421.4 L185.0,421.9 L185.5,422.2 L186.0,422.3 L186.5,422.9 L187.0,423.0 L187.5,423.2 L188.0,423.5 L188.5,423.6 L189.0,424.2 L189.5,424.3 L190.0,424.3 L190.5,424.5 L191.0,425.1 L191.5,425.3 L192.0,425.7 L192.5,426.5 L193.0,426.8 L193.5,427.7 L194.0,428.1 L194.5,428.9 L195.0,429.0 L195.5,429.6 L196.0,429.3 L196.5,429.6 L197.0,429.7 L197.5,429.9 L198.0,429.9 L198.5,430.1 L199.0,430.0 L199.5,430.1 L200.0,430.4 L200.5,430.7 L201.0,431.1 L201.5,431.8 L202.0,431.9 L202.5,432.3 L203.0,432.8 L203.5,432.9 L204.0,432.9 L204.5,433.5 L205.0,434.0 L205.5,434.3 L206.0,434.5 L206.5,435.2 L207.0,435.5 L207.5,435.5 L208.0,435.5 L208.5,435.9 L209.0,435.6 L209.5,435.5 L210.0,435.7 L210.5,435.7 L211.0,435.5 L211.5,435.5 L212.0,435.4 L212.5,435.1 L213.0,435.7 L213.5,436.1 L214.0,436.7 L214.5,436.9 L215.0,437.5 L215.5,437.4 L216.0,437.3 L216.5,437.3 L217.0,437.2 L217.5,437.1 L218.0,436.8 L218.5,436.5 L219.0,436.2 L219.5,436.4 L220.0,436.6 L220.5,436.5 L221.0,437.0 L221.5,437.5 L222.0,437.3 L222.5,437.1 L223.0,437.3 L223.5,437.2 L224.0,436.8 L224.5,436.7 L225.0,436.9 L225.5,436.5 L226.0,436.4 L226.5,436.6 L227.0,436.9 L227.5,437.0 L228.0,437.4 L228.5,437.5 L229.0,437.3 L229.5,437.1 L230.0,436.9 L230.5,436.8 L231.0,436.9 L231.5,437.2 L232.0,437.4 L232.5,437.3 L233.0,437.2 L233.5,436.9 L234.0,436.9 L234.5,436.9 L235.0,437.0 L235.5,437.0 L236.0,437.2 L236.5,437.0 L237.0,436.9 L237.5,436.9 L238.0,437.3 L238.5,437.1 L239.0,437.4 L239.5,437.6 L240.0,437.6 L240.5,437.4 L241.0,437.4 L241.5,437.0 L242.0,436.7 L242.5,436.5 L243.0,436.4 L243.5,436.4 L244.0,436.6 L244.5,436.8 L245.0,437.0 L245.5,436.9" fill="none" stroke="#1a96c8" stroke-width="1.6" stroke-linejoin="round" stroke-linecap="round" opacity="1.0"/>
<path d="M71.5,432.4 L72.0,432.6 L72.5,432.7 L73.0,433.7 L73.5,434.2 L74.0,434.4 L74.5,434.6 L75.0,435.0 L75.5,434.8 L76.0,434.8 L76.5,435.5 L77.0,435.5 L77.5,435.6 L78.0,437.1 L78.5,437.1 L79.0,436.9 L79.5,437.1 L80.0,437.4 L80.5,436.7 L81.0,436.9 L81.5,437.2 L82.0,437.6 L82.5,437.6 L83.0,437.3 L83.5,437.2 L84.0,437.3 L84.5,437.4 L85.0,437.7 L85.5,437.9 L86.0,438.1 L86.5,438.3 L87.0,438.6 L87.5,438.3 L88.0,438.5 L88.5,438.7 L89.0,438.4 L89.5,438.0 L90.0,438.2 L90.5,437.9 L91.0,437.9 L91.5,438.4 L92.0,438.6 L92.5,438.6 L93.0,438.7 L93.5,439.2 L94.0,438.7 L94.5,438.4 L95.0,438.7 L95.5,438.7 L96.0,438.3 L96.5,438.6 L97.0,438.7 L97.5,438.8 L98.0,438.8 L98.5,438.6 L99.0,438.6 L99.5,438.3 L100.0,438.0 L100.5,437.8 L101.0,437.9 L101.5,438.3 L102.0,438.9 L102.5,439.2 L103.0,439.2 L103.5,439.4 L104.0,438.8 L104.5,438.4 L105.0,438.5 L105.5,438.5 L106.0,438.4 L106.5,438.6 L107.0,438.6 L107.5,437.9 L108.0,438.3 L108.5,438.0 L109.0,438.1 L109.5,438.5 L110.0,438.4 L110.5,438.1 L111.0,438.2 L111.5,437.6 L112.0,437.1 L112.5,437.4 L113.0,437.5 L113.5,437.2 L114.0,437.3 L114.5,437.7 L115.0,437.4 L115.5,437.2 L116.0,438.0 L116.5,438.5 L117.0,438.0 L117.5,437.9 L118.0,438.3 L118.5,437.6 L119.0,437.2 L119.5,437.5 L120.0,438.0 L120.5,437.3 L121.0,437.0 L121.5,436.8 L122.0,437.1 L122.5,437.0 L123.0,437.2 L123.5,437.8 L124.0,438.3 L124.5,438.0 L125.0,438.0 L125.5,438.5 L126.0,438.7 L126.5,438.5 L127.0,438.7 L127.5,438.8 L128.0,438.6 L128.5,438.1 L129.0,438.1 L129.5,437.9 L130.0,437.9 L130.5,438.2 L131.0,438.5 L131.5,438.7 L132.0,438.4 L132.5,438.6 L133.0,438.2 L133.5,437.9 L134.0,437.5 L134.5,438.2 L135.0,438.2 L135.5,438.2 L136.0,438.1 L136.5,438.3 L137.0,437.9 L137.5,438.1 L138.0,438.0 L138.5,437.8 L139.0,437.7 L139.5,437.8 L140.0,437.5 L140.5,438.0 L141.0,439.0 L141.5,439.0 L142.0,438.8 L142.5,438.4 L143.0,438.2 L143.5,437.9 L144.0,438.0 L144.5,438.4 L145.0,438.8 L145.5,439.2 L146.0,439.0 L146.5,438.8 L147.0,438.4 L147.5,438.0 L148.0,437.2 L148.5,437.2 L149.0,437.7 L149.5,438.3 L150.0,438.7 L150.5,439.0 L151.0,438.7 L151.5,438.7 L152.0,438.4 L152.5,438.2 L153.0,438.5 L153.5,438.9 L154.0,438.2 L154.5,438.3 L155.0,438.4 L155.5,438.2 L156.0,437.9 L156.5,438.8 L157.0,439.0 L157.5,439.4 L158.0,439.3 L158.5,439.2 L159.0,439.0 L159.5,438.3 L160.0,437.7 L160.5,437.5 L161.0,438.1 L161.5,438.2 L162.0,438.6 L162.5,438.8 L163.0,439.2 L163.5,438.6 L164.0,438.5 L164.5,438.2 L165.0,438.5 L165.5,438.5 L166.0,438.3 L166.5,438.5 L167.0,438.6 L167.5,438.5 L168.0,438.5 L168.5,438.2 L169.0,438.0 L169.5,437.7 L170.0,437.8 L170.5,437.5 L171.0,436.8 L171.5,430.5 L172.0,426.1 L172.5,422.5 L173.0,421.0 L173.5,420.8 L174.0,419.9 L174.5,419.7 L175.0,419.6 L175.5,420.0 L176.0,420.2 L176.5,420.7 L177.0,421.2 L177.5,421.9 L178.0,421.9 L178.5,421.8 L179.0,422.1 L179.5,422.2 L180.0,422.4 L180.5,422.7 L181.0,423.5 L181.5,424.1 L182.0,424.5 L182.5,424.4 L183.0,425.2 L183.5,425.1 L184.0,425.3 L184.5,425.6 L185.0,426.3 L185.5,426.5 L186.0,427.2 L186.5,426.7 L187.0,426.7 L187.5,426.9 L188.0,426.9 L188.5,427.0 L189.0,427.6 L189.5,428.2 L190.0,428.2 L190.5,428.7 L191.0,428.9 L191.5,429.5 L192.0,429.7 L192.5,430.8 L193.0,431.2 L193.5,431.2 L194.0,431.7 L194.5,432.3 L195.0,432.3 L195.5,433.0 L196.0,433.3 L196.5,433.6 L197.0,433.9 L197.5,433.9 L198.0,433.7 L198.5,433.4 L199.0,433.2 L199.5,433.6 L200.0,433.3 L200.5,433.3 L201.0,434.3 L201.5,434.8 L202.0,434.9 L202.5,435.1 L203.0,435.3 L203.5,435.6 L204.0,435.3 L204.5,435.0 L205.0,436.1 L205.5,436.5 L206.0,436.5 L206.5,436.3 L207.0,436.4 L207.5,436.2 L208.0,435.9 L208.5,435.8 L209.0,437.3 L209.5,437.4 L210.0,437.1 L210.5,437.3 L211.0,437.3 L211.5,436.5 L212.0,436.6 L212.5,437.1 L213.0,437.1 L213.5,436.9 L214.0,437.0 L214.5,437.2 L215.0,436.9 L215.5,437.1 L216.0,437.7 L216.5,437.5 L217.0,437.5 L217.5,438.1 L218.0,438.2 L218.5,438.0 L219.0,438.5 L219.5,438.3 L220.0,437.5 L220.5,437.2 L221.0,437.3 L221.5,437.2 L222.0,437.4 L222.5,437.9 L223.0,437.6 L223.5,437.7 L224.0,437.8 L224.5,437.8 L225.0,438.0 L225.5,437.7 L226.0,437.4 L226.5,437.6 L227.0,438.1 L227.5,437.9 L228.0,438.4 L228.5,438.3 L229.0,438.0 L229.5,437.8 L230.0,437.4 L230.5,437.6 L231.0,438.0 L231.5,438.1 L232.0,437.6 L232.5,438.1 L233.0,437.7 L233.5,437.9 L234.0,437.9 L234.5,437.9 L235.0,438.1 L235.5,438.7 L236.0,438.2 L236.5,438.7 L237.0,438.8 L237.5,438.6 L238.0,438.6 L238.5,438.2 L239.0,437.9 L239.5,438.1 L240.0,438.1 L240.5,437.5 L241.0,438.2 L241.5,437.7 L242.0,437.5 L242.5,437.4 L243.0,437.3 L243.5,437.6 L244.0,437.6 L244.5,437.7 L245.0,437.8 L245.5,438.1" fill="none" stroke="#d98208" stroke-width="1.6" stroke-linejoin="round" stroke-linecap="round" opacity="1.0"/>
<path d="M71.5,433.7 L72.0,434.0 L72.5,434.2 L73.0,434.3 L73.5,434.5 L74.0,434.7 L74.5,434.9 L75.0,435.0 L75.5,434.9 L76.0,435.5 L76.5,435.7 L77.0,435.8 L77.5,436.2 L78.0,436.7 L78.5,436.3 L79.0,436.3 L79.5,436.4 L80.0,436.4 L80.5,436.4 L81.0,436.7 L81.5,436.9 L82.0,437.0 L82.5,437.2 L83.0,437.2 L83.5,437.3 L84.0,437.3 L84.5,437.2 L85.0,437.0 L85.5,437.5 L86.0,437.5 L86.5,437.6 L87.0,437.8 L87.5,438.3 L88.0,438.2 L88.5,438.1 L89.0,438.0 L89.5,438.0 L90.0,438.0 L90.5,438.0 L91.0,438.2 L91.5,438.4 L92.0,438.6 L92.5,438.6 L93.0,438.9 L93.5,439.1 L94.0,439.0 L94.5,439.0 L95.0,438.9 L95.5,438.7 L96.0,438.7 L96.5,439.0 L97.0,438.8 L97.5,438.7 L98.0,438.6 L98.5,438.6 L99.0,438.2 L99.5,438.0 L100.0,437.7 L100.5,437.8 L101.0,437.5 L101.5,437.5 L102.0,437.7 L102.5,438.3 L103.0,438.5 L103.5,438.9 L104.0,438.7 L104.5,438.5 L105.0,438.1 L105.5,437.8 L106.0,437.4 L106.5,437.5 L107.0,437.7 L107.5,437.9 L108.0,437.9 L108.5,438.2 L109.0,438.1 L109.5,438.0 L110.0,437.6 L110.5,437.7 L111.0,437.9 L111.5,438.1 L112.0,438.2 L112.5,438.3 L113.0,438.6 L113.5,438.2 L114.0,438.3 L114.5,438.2 L115.0,438.2 L115.5,438.1 L116.0,438.3 L116.5,438.2 L117.0,438.2 L117.5,438.4 L118.0,438.1 L118.5,438.2 L119.0,438.1 L119.5,438.1 L120.0,437.9 L120.5,437.7 L121.0,437.5 L121.5,437.5 L122.0,437.5 L122.5,437.8 L123.0,437.8 L123.5,437.9 L124.0,437.6 L124.5,437.5 L125.0,437.2 L125.5,437.0 L126.0,436.7 L126.5,437.1 L127.0,437.3 L127.5,437.4 L128.0,437.7 L128.5,438.4 L129.0,438.3 L129.5,438.1 L130.0,438.5 L130.5,438.7 L131.0,438.3 L131.5,438.5 L132.0,438.7 L132.5,438.5 L133.0,438.4 L133.5,438.3 L134.0,438.3 L134.5,438.3 L135.0,438.0 L135.5,437.8 L136.0,438.2 L136.5,437.9 L137.0,437.9 L137.5,438.2 L138.0,438.4 L138.5,437.9 L139.0,438.1 L139.5,438.3 L140.0,438.3 L140.5,438.6 L141.0,438.9 L141.5,439.0 L142.0,439.1 L142.5,438.9 L143.0,438.9 L143.5,439.1 L144.0,439.1 L144.5,439.2 L145.0,439.4 L145.5,438.9 L146.0,438.8 L146.5,438.7 L147.0,438.5 L147.5,438.4 L148.0,438.8 L148.5,438.7 L149.0,438.5 L149.5,438.5 L150.0,438.6 L150.5,438.2 L151.0,438.1 L151.5,438.1 L152.0,437.9 L152.5,437.8 L153.0,438.2 L153.5,438.6 L154.0,438.9 L154.5,439.2 L155.0,439.3 L155.5,439.4 L156.0,439.0 L156.5,438.9 L157.0,438.7 L157.5,438.5 L158.0,438.2 L158.5,438.2 L159.0,438.0 L159.5,437.7 L160.0,437.8 L160.5,437.9 L161.0,438.0 L161.5,438.1 L162.0,438.5 L162.5,438.3 L163.0,438.3 L163.5,438.0 L164.0,437.5 L164.5,437.0 L165.0,437.4 L165.5,437.1 L166.0,437.5 L166.5,438.1 L167.0,438.4 L167.5,438.4 L168.0,439.1 L168.5,439.2 L169.0,439.3 L169.5,439.5 L170.0,439.1 L170.5,438.9 L171.0,437.0 L171.5,426.2 L172.0,420.4 L172.5,417.3 L173.0,414.1 L173.5,411.7 L174.0,410.1 L174.5,409.7 L175.0,408.7 L175.5,408.4 L176.0,408.0 L176.5,407.7 L177.0,407.7 L177.5,408.1 L178.0,409.0 L178.5,409.8 L179.0,410.8 L179.5,411.4 L180.0,411.7 L180.5,411.5 L181.0,411.8 L181.5,411.5 L182.0,411.8 L182.5,412.5 L183.0,413.2 L183.5,413.8 L184.0,414.4 L184.5,414.6 L185.0,414.7 L185.5,415.0 L186.0,415.6 L186.5,416.7 L187.0,417.6 L187.5,418.5 L188.0,419.4 L188.5,419.9 L189.0,420.1 L189.5,420.8 L190.0,421.5 L190.5,422.1 L191.0,422.4 L191.5,423.1 L192.0,423.2 L192.5,423.7 L193.0,423.9 L193.5,424.5 L194.0,424.9 L194.5,425.5 L195.0,425.6 L195.5,425.8 L196.0,426.6 L196.5,427.1 L197.0,427.6 L197.5,428.5 L198.0,429.1 L198.5,429.3 L199.0,429.5 L199.5,430.0 L200.0,430.1 L200.5,430.5 L201.0,430.7 L201.5,431.1 L202.0,431.4 L202.5,431.3 L203.0,431.5 L203.5,431.7 L204.0,431.8 L204.5,431.5 L205.0,432.2 L205.5,432.3 L206.0,432.5 L206.5,432.7 L207.0,432.9 L207.5,432.8 L208.0,432.8 L208.5,432.8 L209.0,432.9 L209.5,433.3 L210.0,433.5 L210.5,433.9 L211.0,434.6 L211.5,434.8 L212.0,434.6 L212.5,434.6 L213.0,434.6 L213.5,434.2 L214.0,434.1 L214.5,434.2 L215.0,434.7 L215.5,434.9 L216.0,434.9 L216.5,435.0 L217.0,435.2 L217.5,435.1 L218.0,435.3 L218.5,435.6 L219.0,435.1 L219.5,435.2 L220.0,435.2 L220.5,435.5 L221.0,435.3 L221.5,435.6 L222.0,435.7 L222.5,435.4 L223.0,434.7 L223.5,434.6 L224.0,435.2 L224.5,435.3 L225.0,435.5 L225.5,435.7 L226.0,436.3 L226.5,435.9 L227.0,435.7 L227.5,435.3 L228.0,435.8 L228.5,435.4 L229.0,435.8 L229.5,435.8 L230.0,436.1 L230.5,435.9 L231.0,435.5 L231.5,435.5 L232.0,435.7 L232.5,435.6 L233.0,435.6 L233.5,436.0 L234.0,436.1 L234.5,436.0 L235.0,436.1 L235.5,436.0 L236.0,435.7 L236.5,435.3 L237.0,435.2 L237.5,435.2 L238.0,435.3 L238.5,435.7 L239.0,435.9 L239.5,435.9 L240.0,436.1 L240.5,436.1 L241.0,436.0 L241.5,436.0 L242.0,435.7 L242.5,435.8 L243.0,435.5 L243.5,435.7 L244.0,435.6 L244.5,436.1 L245.0,435.9 L245.5,436.1" fill="none" stroke="#0a0a0a" stroke-width="1.7" stroke-linejoin="round" stroke-linecap="round" opacity="1.0"/>
<path d="M329.8,444.3 L330.3,444.3 L330.8,444.4 L331.3,444.4 L331.8,444.5 L332.3,444.5 L332.8,444.5 L333.3,444.4 L333.8,444.3 L334.3,444.3 L334.8,444.2 L335.3,443.5 L335.8,442.8 L336.3,442.5 L336.8,442.2 L337.3,441.8 L337.8,441.4 L338.3,440.9 L338.8,440.4 L339.3,440.0 L339.8,439.6 L340.3,439.0 L340.8,438.8 L341.3,438.4 L341.8,438.0 L342.3,437.5 L342.8,437.3 L343.3,436.8 L343.8,436.1 L344.3,435.7 L344.8,435.4 L345.3,435.0 L345.8,434.7 L346.3,434.5 L346.8,434.1 L347.3,433.7 L347.8,433.3 L348.3,433.0 L348.8,432.6 L349.3,432.1 L349.8,431.7 L350.3,430.9 L350.8,430.1 L351.3,429.4 L351.8,428.7 L352.3,427.9 L352.8,427.6 L353.3,427.0 L353.8,426.3 L354.3,425.6 L354.8,425.0 L355.3,424.2 L355.8,423.6 L356.3,423.1 L356.8,422.4 L357.3,421.9 L357.8,421.5 L358.3,420.9 L358.8,420.6 L359.3,420.2 L359.8,420.0 L360.3,419.7 L360.8,419.3 L361.3,418.8 L361.8,418.6 L362.3,418.1 L362.8,417.5 L363.3,417.3 L363.8,417.1 L364.3,416.5 L364.8,416.2 L365.3,416.0 L365.8,415.7 L366.3,415.1 L366.8,414.9 L367.3,414.7 L367.8,414.4 L368.3,414.1 L368.8,414.0 L369.3,413.6 L369.8,413.3 L370.3,413.1 L370.8,413.0 L371.3,412.7 L371.8,412.6 L372.3,412.4 L372.8,412.2 L373.3,411.9 L373.8,411.8 L374.3,411.4 L374.8,411.3 L375.3,411.0 L375.8,410.8 L376.3,410.3 L376.8,410.2 L377.3,409.7 L377.8,409.3 L378.3,409.1 L378.8,408.8 L379.3,408.7 L379.8,408.6 L380.3,408.5 L380.8,408.3 L381.3,408.2 L381.8,407.9 L382.3,407.6 L382.8,407.4 L383.3,407.3 L383.8,407.2 L384.3,407.1 L384.8,407.0 L385.3,406.8 L385.8,406.4 L386.3,406.2 L386.8,406.0 L387.3,405.8 L387.8,405.8 L388.3,405.9 L388.8,405.8 L389.3,405.7 L389.8,405.6 L390.3,405.3 L390.8,405.0 L391.3,404.9 L391.8,404.7 L392.3,404.5 L392.8,404.4 L393.3,404.3 L393.8,404.2 L394.3,404.0 L394.8,404.0 L395.3,404.0 L395.8,403.9 L396.3,403.8 L396.8,403.7 L397.3,403.5 L397.8,403.4 L398.3,403.0 L398.8,402.8 L399.3,402.7 L399.8,402.6 L400.3,402.3 L400.8,402.4 L401.3,402.4 L401.8,402.2 L402.3,401.8 L402.8,401.7 L403.3,401.4 L403.8,401.3 L404.3,401.1 L404.8,401.4 L405.3,401.3 L405.8,401.2 L406.3,401.0 L406.8,400.8 L407.3,400.6 L407.8,400.6 L408.3,400.6 L408.8,400.6 L409.3,400.5 L409.8,400.4 L410.3,400.3 L410.8,400.1 L411.3,400.0 L411.8,400.1 L412.3,399.8 L412.8,399.4 L413.3,399.3 L413.8,399.2 L414.3,399.0 L414.8,399.0 L415.3,399.1 L415.8,399.1 L416.3,398.9 L416.8,398.8 L417.3,398.9 L417.8,398.6 L418.3,398.7 L418.8,398.5 L419.3,398.4 L419.8,398.3 L420.3,398.3 L420.8,397.9 L421.3,397.8 L421.8,397.7 L422.3,397.5 L422.8,397.4 L423.3,397.4 L423.8,397.4 L424.3,397.4 L424.8,397.5 L425.3,397.4 L425.8,397.3 L426.3,397.1 L426.8,397.0 L427.3,396.8 L427.8,396.8 L428.3,396.9 L428.8,397.0 L429.3,397.1 L429.8,397.1 L430.3,397.0 L430.8,396.9 L431.3,396.9 L431.8,396.9 L432.3,396.8 L432.8,396.6 L433.3,396.4 L433.8,396.2 L434.3,395.8 L434.8,395.7 L435.3,395.8 L435.8,395.2 L436.3,393.8 L436.8,394.1 L437.3,394.2 L437.8,394.0 L438.3,394.1 L438.8,394.3 L439.3,394.0 L439.8,394.0 L440.3,393.9 L440.8,393.7 L441.3,393.5 L441.8,393.6 L442.3,393.2 L442.8,393.2 L443.3,393.3 L443.8,393.4 L444.3,393.4 L444.8,393.6 L445.3,393.5 L445.8,393.5 L446.3,393.4 L446.8,393.4 L447.3,393.3 L447.8,393.4 L448.3,393.2 L448.8,393.2 L449.3,393.1 L449.8,393.1 L450.3,393.0 L450.8,392.9 L451.3,392.8 L451.8,392.8 L452.3,392.7 L452.8,392.6 L453.3,392.7 L453.8,392.7 L454.3,392.7 L454.8,392.5 L455.3,392.2 L455.8,392.1 L456.3,392.0 L456.8,391.8 L457.3,391.8 L457.8,392.1 L458.3,391.9 L458.8,392.0 L459.3,392.0 L459.8,392.0 L460.3,391.8 L460.8,391.9 L461.3,391.8 L461.8,391.9 L462.3,392.2 L462.8,392.3 L463.3,392.3 L463.8,392.2 L464.3,392.1 L464.8,391.9 L465.3,391.7 L465.8,391.9 L466.3,391.7 L466.8,391.7 L467.3,391.7 L467.8,391.8 L468.3,391.5 L468.8,391.6 L469.3,391.5 L469.8,391.4 L470.3,391.4 L470.8,391.4 L471.3,391.3 L471.8,391.4 L472.3,391.4 L472.8,391.4 L473.3,391.4 L473.8,391.4 L474.3,391.4 L474.8,391.5 L475.3,391.3 L475.8,391.3 L476.3,391.1 L476.8,391.1 L477.3,391.2 L477.8,391.3 L478.3,391.3 L478.8,391.4 L479.3,391.2 L479.8,390.9 L480.3,390.7 L480.8,390.7 L481.3,390.5 L481.8,390.5 L482.3,390.7 L482.8,390.7 L483.3,390.6 L483.8,390.9 L484.3,391.1 L484.8,391.0 L485.3,391.1 L485.8,391.2 L486.3,391.1 L486.8,390.9 L487.3,390.8 L487.8,390.7 L488.3,390.7 L488.8,390.6 L489.3,390.6 L489.8,390.7 L490.3,390.7 L490.8,390.8 L491.3,390.7 L491.8,390.9 L492.3,391.1 L492.8,391.0 L493.3,391.0 L493.8,391.0 L494.3,390.9 L494.8,390.6 L495.3,390.6 L495.8,390.5 L496.3,390.3 L496.8,390.3 L497.3,390.2 L497.8,390.2 L498.3,390.1 L498.8,390.4 L499.3,390.6 L499.8,390.8 L500.3,390.7 L500.8,390.8 L501.3,390.7 L501.8,390.6 L502.3,390.5 L502.8,390.4 L503.3,390.6 L503.8,390.4 L504.3,390.4 L504.8,390.1 L505.3,390.2 L505.8,390.1" fill="none" stroke="#c00008" stroke-width="1.7" stroke-linejoin="round" stroke-linecap="round" opacity="1.0"/>
<path d="M329.8,444.4 L330.3,444.3 L330.8,444.4 L331.3,444.5 L331.8,444.6 L332.3,444.3 L332.8,444.5 L333.3,444.4 L333.8,444.2 L334.3,443.9 L334.8,442.9 L335.3,441.2 L335.8,441.1 L336.3,441.4 L336.8,441.5 L337.3,441.4 L337.8,441.5 L338.3,441.6 L338.8,441.7 L339.3,441.7 L339.8,441.4 L340.3,441.6 L340.8,441.6 L341.3,441.3 L341.8,441.4 L342.3,441.5 L342.8,441.7 L343.3,441.6 L343.8,441.9 L344.3,441.7 L344.8,441.8 L345.3,441.5 L345.8,441.6 L346.3,441.5 L346.8,441.7 L347.3,441.7 L347.8,441.8 L348.3,441.8 L348.8,441.7 L349.3,441.4 L349.8,441.4 L350.3,441.5 L350.8,441.5 L351.3,441.4 L351.8,441.4 L352.3,441.6 L352.8,441.3 L353.3,441.3 L353.8,441.3 L354.3,441.2 L354.8,441.1 L355.3,441.2 L355.8,441.4 L356.3,441.8 L356.8,442.0 L357.3,442.1 L357.8,442.3 L358.3,442.0 L358.8,441.6 L359.3,441.9 L359.8,441.7 L360.3,441.5 L360.8,441.6 L361.3,441.7 L361.8,441.4 L362.3,441.5 L362.8,441.7 L363.3,441.7 L363.8,441.5 L364.3,441.6 L364.8,441.3 L365.3,441.1 L365.8,441.3 L366.3,441.8 L366.8,441.8 L367.3,441.9 L367.8,442.0 L368.3,441.6 L368.8,441.2 L369.3,441.3 L369.8,441.6 L370.3,441.3 L370.8,441.4 L371.3,441.6 L371.8,441.4 L372.3,441.2 L372.8,441.4 L373.3,441.6 L373.8,441.2 L374.3,441.3 L374.8,441.3 L375.3,441.1 L375.8,441.0 L376.3,441.3 L376.8,441.1 L377.3,441.3 L377.8,441.4 L378.3,441.7 L378.8,441.6 L379.3,441.6 L379.8,441.3 L380.3,441.2 L380.8,441.1 L381.3,441.6 L381.8,441.5 L382.3,441.6 L382.8,441.8 L383.3,441.8 L383.8,441.3 L384.3,441.5 L384.8,441.4 L385.3,441.3 L385.8,441.3 L386.3,441.7 L386.8,441.6 L387.3,441.8 L387.8,441.9 L388.3,441.9 L388.8,441.8 L389.3,441.7 L389.8,441.8 L390.3,441.9 L390.8,441.6 L391.3,441.4 L391.8,441.5 L392.3,441.5 L392.8,441.5 L393.3,441.6 L393.8,441.7 L394.3,441.6 L394.8,441.4 L395.3,441.2 L395.8,441.1 L396.3,441.1 L396.8,441.3 L397.3,441.3 L397.8,441.4 L398.3,441.4 L398.8,441.7 L399.3,441.6 L399.8,441.7 L400.3,441.8 L400.8,441.9 L401.3,441.6 L401.8,441.8 L402.3,441.9 L402.8,442.0 L403.3,442.2 L403.8,442.4 L404.3,442.2 L404.8,441.9 L405.3,441.8 L405.8,441.6 L406.3,441.6 L406.8,441.6 L407.3,441.7 L407.8,441.4 L408.3,441.5 L408.8,441.6 L409.3,441.6 L409.8,441.7 L410.3,442.0 L410.8,441.8 L411.3,441.6 L411.8,441.5 L412.3,441.6 L412.8,441.5 L413.3,441.5 L413.8,441.3 L414.3,441.5 L414.8,441.4 L415.3,441.4 L415.8,441.4 L416.3,441.7 L416.8,441.5 L417.3,441.4 L417.8,441.5 L418.3,441.5 L418.8,441.3 L419.3,441.5 L419.8,441.5 L420.3,441.3 L420.8,441.5 L421.3,441.6 L421.8,441.5 L422.3,441.4 L422.8,441.5 L423.3,441.6 L423.8,441.8 L424.3,441.8 L424.8,442.0 L425.3,442.0 L425.8,441.9 L426.3,441.8 L426.8,442.0 L427.3,442.1 L427.8,441.8 L428.3,441.9 L428.8,441.8 L429.3,441.7 L429.8,441.6 L430.3,441.9 L430.8,441.7 L431.3,441.6 L431.8,441.7 L432.3,441.4 L432.8,441.4 L433.3,441.5 L433.8,441.5 L434.3,441.6 L434.8,442.1 L435.3,442.1 L435.8,442.3 L436.3,442.7 L436.8,442.8 L437.3,442.7 L437.8,442.7 L438.3,443.0 L438.8,442.8 L439.3,442.9 L439.8,443.0 L440.3,443.1 L440.8,442.8 L441.3,442.5 L441.8,442.2 L442.3,441.9 L442.8,441.8 L443.3,441.4 L443.8,441.1 L444.3,440.5 L444.8,440.3 L445.3,439.5 L445.8,439.3 L446.3,439.1 L446.8,438.7 L447.3,438.1 L447.8,437.5 L448.3,436.7 L448.8,435.6 L449.3,434.9 L449.8,434.0 L450.3,433.4 L450.8,432.7 L451.3,432.1 L451.8,431.1 L452.3,430.2 L452.8,429.2 L453.3,428.1 L453.8,427.3 L454.3,426.2 L454.8,425.3 L455.3,424.5 L455.8,423.8 L456.3,422.8 L456.8,422.3 L457.3,421.5 L457.8,421.1 L458.3,420.8 L458.8,420.4 L459.3,420.2 L459.8,420.2 L460.3,419.8 L460.8,419.5 L461.3,419.4 L461.8,419.0 L462.3,418.9 L462.8,419.0 L463.3,418.7 L463.8,418.6 L464.3,418.5 L464.8,418.1 L465.3,417.9 L465.8,417.8 L466.3,417.5 L466.8,417.5 L467.3,417.6 L467.8,417.6 L468.3,417.7 L468.8,417.7 L469.3,417.4 L469.8,417.3 L470.3,417.2 L470.8,417.0 L471.3,416.8 L471.8,416.9 L472.3,417.0 L472.8,416.8 L473.3,416.9 L473.8,416.8 L474.3,416.7 L474.8,416.5 L475.3,416.5 L475.8,416.0 L476.3,416.0 L476.8,415.8 L477.3,416.0 L477.8,416.1 L478.3,416.6 L478.8,416.7 L479.3,416.7 L479.8,416.6 L480.3,416.3 L480.8,416.1 L481.3,415.9 L481.8,415.8 L482.3,415.7 L482.8,416.0 L483.3,415.9 L483.8,416.3 L484.3,416.8 L484.8,416.5 L485.3,416.3 L485.8,416.2 L486.3,415.9 L486.8,415.5 L487.3,415.7 L487.8,415.8 L488.3,416.1 L488.8,416.2 L489.3,416.2 L489.8,416.3 L490.3,416.2 L490.8,416.2 L491.3,416.1 L491.8,416.2 L492.3,416.0 L492.8,416.1 L493.3,416.3 L493.8,416.3 L494.3,416.1 L494.8,416.5 L495.3,416.3 L495.8,415.7 L496.3,415.7 L496.8,416.0 L497.3,415.8 L497.8,416.1 L498.3,416.6 L498.8,416.6 L499.3,416.3 L499.8,416.1 L500.3,416.0 L500.8,416.0 L501.3,415.8 L501.8,416.0 L502.3,416.3 L502.8,416.0 L503.3,415.7 L503.8,415.8 L504.3,415.9 L504.8,415.8 L505.3,416.1 L505.8,416.3" fill="none" stroke="#d98208" stroke-width="1.7" stroke-linejoin="round" stroke-linecap="round" opacity="1.0"/>
<path d="M329.8,443.9 L330.3,444.0 L330.8,444.0 L331.3,444.4 L331.8,444.5 L332.3,444.6 L332.8,444.7 L333.3,444.9 L333.8,444.9 L334.3,445.0 L334.8,443.5 L335.3,442.1 L335.8,441.9 L336.3,441.7 L336.8,441.5 L337.3,441.5 L337.8,441.3 L338.3,441.3 L338.8,441.6 L339.3,441.6 L339.8,441.7 L340.3,441.5 L340.8,441.5 L341.3,441.5 L341.8,441.7 L342.3,441.8 L342.8,441.9 L343.3,441.7 L343.8,441.5 L344.3,441.2 L344.8,440.9 L345.3,441.2 L345.8,441.2 L346.3,441.5 L346.8,441.5 L347.3,441.7 L347.8,441.4 L348.3,441.6 L348.8,441.1 L349.3,441.3 L349.8,441.3 L350.3,441.4 L350.8,441.4 L351.3,441.8 L351.8,441.7 L352.3,441.9 L352.8,442.0 L353.3,441.9 L353.8,442.0 L354.3,441.7 L354.8,441.5 L355.3,441.2 L355.8,441.2 L356.3,440.8 L356.8,441.7 L357.3,441.9 L357.8,442.4 L358.3,442.7 L358.8,442.6 L359.3,442.1 L359.8,442.3 L360.3,442.1 L360.8,441.9 L361.3,442.1 L361.8,441.8 L362.3,441.4 L362.8,441.4 L363.3,441.4 L363.8,441.2 L364.3,441.4 L364.8,441.5 L365.3,441.4 L365.8,441.5 L366.3,441.6 L366.8,441.7 L367.3,441.5 L367.8,441.4 L368.3,441.3 L368.8,441.0 L369.3,441.1 L369.8,441.2 L370.3,441.2 L370.8,441.3 L371.3,441.4 L371.8,441.2 L372.3,441.2 L372.8,441.4 L373.3,441.7 L373.8,441.5 L374.3,441.6 L374.8,441.7 L375.3,441.8 L375.8,441.3 L376.3,441.3 L376.8,441.5 L377.3,441.3 L377.8,441.2 L378.3,441.0 L378.8,441.2 L379.3,440.9 L379.8,441.2 L380.3,441.4 L380.8,441.5 L381.3,441.8 L381.8,441.8 L382.3,441.7 L382.8,441.6 L383.3,441.7 L383.8,441.6 L384.3,441.6 L384.8,441.6 L385.3,441.6 L385.8,441.4 L386.3,441.8 L386.8,441.7 L387.3,441.8 L387.8,441.8 L388.3,442.1 L388.8,441.5 L389.3,441.9 L389.8,441.7 L390.3,441.5 L390.8,441.4 L391.3,442.0 L391.8,441.8 L392.3,441.6 L392.8,441.8 L393.3,442.0 L393.8,441.4 L394.3,441.3 L394.8,441.4 L395.3,441.8 L395.8,441.6 L396.3,442.0 L396.8,441.9 L397.3,441.8 L397.8,441.7 L398.3,441.8 L398.8,441.3 L399.3,441.5 L399.8,441.8 L400.3,441.5 L400.8,441.4 L401.3,441.8 L401.8,441.6 L402.3,441.4 L402.8,441.4 L403.3,441.3 L403.8,441.1 L404.3,441.1 L404.8,441.0 L405.3,441.1 L405.8,441.1 L406.3,441.2 L406.8,441.3 L407.3,441.8 L407.8,442.0 L408.3,441.8 L408.8,442.2 L409.3,442.1 L409.8,441.8 L410.3,441.5 L410.8,441.7 L411.3,441.7 L411.8,441.8 L412.3,441.7 L412.8,441.7 L413.3,441.6 L413.8,441.5 L414.3,441.7 L414.8,441.6 L415.3,441.7 L415.8,441.7 L416.3,441.5 L416.8,441.3 L417.3,441.5 L417.8,441.3 L418.3,441.2 L418.8,441.5 L419.3,441.5 L419.8,441.5 L420.3,441.7 L420.8,441.8 L421.3,441.6 L421.8,441.5 L422.3,441.3 L422.8,441.3 L423.3,441.5 L423.8,441.3 L424.3,441.5 L424.8,441.8 L425.3,441.7 L425.8,441.6 L426.3,441.7 L426.8,441.6 L427.3,441.6 L427.8,441.6 L428.3,441.4 L428.8,441.5 L429.3,441.4 L429.8,441.4 L430.3,441.7 L430.8,442.1 L431.3,441.8 L431.8,441.9 L432.3,441.7 L432.8,441.8 L433.3,441.7 L433.8,441.7 L434.3,441.6 L434.8,441.8 L435.3,441.8 L435.8,441.8 L436.3,442.0 L436.8,442.0 L437.3,442.4 L437.8,442.7 L438.3,442.7 L438.8,442.0 L439.3,441.0 L439.8,439.5 L440.3,438.1 L440.8,436.6 L441.3,435.3 L441.8,433.5 L442.3,431.5 L442.8,430.0 L443.3,428.2 L443.8,426.3 L444.3,423.9 L444.8,421.9 L445.3,419.5 L445.8,417.4 L446.3,415.3 L446.8,413.4 L447.3,411.8 L447.8,410.1 L448.3,408.5 L448.8,406.8 L449.3,405.1 L449.8,403.4 L450.3,402.0 L450.8,400.1 L451.3,398.7 L451.8,397.5 L452.3,396.2 L452.8,394.8 L453.3,393.5 L453.8,392.2 L454.3,391.3 L454.8,390.4 L455.3,389.5 L455.8,388.9 L456.3,388.0 L456.8,387.0 L457.3,386.3 L457.8,385.3 L458.3,384.5 L458.8,383.6 L459.3,383.0 L459.8,382.1 L460.3,381.5 L460.8,381.1 L461.3,380.7 L461.8,380.1 L462.3,379.6 L462.8,379.2 L463.3,378.8 L463.8,378.3 L464.3,377.9 L464.8,377.3 L465.3,376.9 L465.8,376.1 L466.3,375.7 L466.8,375.2 L467.3,375.0 L467.8,374.9 L468.3,374.5 L468.8,374.2 L469.3,373.8 L469.8,373.8 L470.3,373.4 L470.8,373.1 L471.3,372.9 L471.8,372.4 L472.3,371.6 L472.8,370.9 L473.3,370.4 L473.8,369.7 L474.3,369.2 L474.8,368.9 L475.3,368.4 L475.8,367.6 L476.3,367.4 L476.8,367.2 L477.3,366.6 L477.8,366.2 L478.3,365.9 L478.8,365.6 L479.3,364.9 L479.8,364.4 L480.3,363.9 L480.8,364.1 L481.3,363.5 L481.8,363.1 L482.3,363.0 L482.8,362.7 L483.3,362.3 L483.8,361.8 L484.3,361.5 L484.8,361.0 L485.3,360.7 L485.8,360.2 L486.3,360.2 L486.8,359.9 L487.3,359.5 L487.8,359.2 L488.3,358.9 L488.8,358.6 L489.3,358.4 L489.8,358.1 L490.3,358.0 L490.8,357.7 L491.3,357.8 L491.8,357.6 L492.3,357.7 L492.8,357.1 L493.3,356.6 L493.8,355.9 L494.3,355.6 L494.8,354.9 L495.3,354.8 L495.8,354.7 L496.3,354.5 L496.8,354.4 L497.3,354.3 L497.8,354.2 L498.3,354.2 L498.8,354.2 L499.3,353.9 L499.8,353.7 L500.3,353.5 L500.8,353.2 L501.3,352.9 L501.8,352.8 L502.3,352.9 L502.8,352.9 L503.3,352.6 L503.8,352.3 L504.3,351.9 L504.8,351.6 L505.3,351.3 L505.8,351.2" fill="none" stroke="#0a0a0a" stroke-width="1.8" stroke-linejoin="round" stroke-linecap="round" opacity="1.0"/>
<path d="M329.8,444.5 L330.3,444.8 L330.8,444.7 L331.3,444.7 L331.8,444.9 L332.3,444.7 L332.8,444.5 L333.3,444.5 L333.8,444.2 L334.3,443.7 L334.8,442.2 L335.3,440.8 L335.8,440.8 L336.3,441.0 L336.8,441.2 L337.3,441.4 L337.8,441.3 L338.3,441.1 L338.8,440.7 L339.3,441.0 L339.8,441.1 L340.3,441.0 L340.8,441.2 L341.3,441.6 L341.8,441.9 L342.3,441.7 L342.8,441.9 L343.3,442.3 L343.8,442.2 L344.3,442.2 L344.8,441.9 L345.3,442.0 L345.8,441.6 L346.3,441.3 L346.8,441.2 L347.3,441.8 L347.8,441.8 L348.3,442.0 L348.8,442.3 L349.3,442.0 L349.8,441.8 L350.3,441.6 L350.8,441.4 L351.3,441.3 L351.8,441.5 L352.3,441.7 L352.8,441.8 L353.3,442.1 L353.8,442.6 L354.3,442.4 L354.8,442.1 L355.3,441.8 L355.8,441.2 L356.3,440.9 L356.8,441.0 L357.3,440.9 L357.8,441.1 L358.3,441.4 L358.8,441.2 L359.3,441.4 L359.8,441.7 L360.3,441.8 L360.8,441.8 L361.3,442.0 L361.8,441.9 L362.3,441.8 L362.8,441.6 L363.3,441.7 L363.8,441.6 L364.3,441.6 L364.8,441.8 L365.3,441.7 L365.8,441.8 L366.3,441.7 L366.8,441.7 L367.3,441.3 L367.8,441.4 L368.3,441.2 L368.8,441.0 L369.3,441.3 L369.8,441.2 L370.3,441.3 L370.8,441.3 L371.3,441.1 L371.8,441.1 L372.3,441.1 L372.8,440.6 L373.3,440.5 L373.8,440.8 L374.3,440.9 L374.8,441.1 L375.3,441.8 L375.8,442.1 L376.3,442.4 L376.8,442.4 L377.3,442.6 L377.8,442.2 L378.3,442.1 L378.8,442.1 L379.3,441.9 L379.8,441.8 L380.3,441.6 L380.8,441.6 L381.3,441.5 L381.8,441.2 L382.3,441.3 L382.8,441.7 L383.3,441.5 L383.8,441.6 L384.3,442.0 L384.8,441.7 L385.3,441.5 L385.8,441.6 L386.3,441.6 L386.8,441.8 L387.3,441.7 L387.8,441.7 L388.3,441.8 L388.8,441.8 L389.3,441.9 L389.8,442.0 L390.3,442.0 L390.8,441.7 L391.3,441.6 L391.8,441.1 L392.3,441.4 L392.8,441.7 L393.3,441.9 L393.8,441.4 L394.3,441.5 L394.8,441.5 L395.3,441.0 L395.8,440.9 L396.3,441.3 L396.8,441.6 L397.3,441.5 L397.8,441.8 L398.3,441.7 L398.8,441.8 L399.3,441.6 L399.8,441.6 L400.3,441.6 L400.8,441.8 L401.3,441.5 L401.8,441.8 L402.3,441.6 L402.8,441.8 L403.3,441.7 L403.8,442.1 L404.3,442.2 L404.8,442.1 L405.3,441.9 L405.8,441.9 L406.3,441.8 L406.8,441.2 L407.3,441.3 L407.8,441.2 L408.3,441.1 L408.8,441.0 L409.3,441.1 L409.8,441.3 L410.3,441.5 L410.8,441.9 L411.3,441.8 L411.8,441.9 L412.3,441.7 L412.8,441.3 L413.3,441.0 L413.8,441.0 L414.3,441.2 L414.8,441.2 L415.3,441.5 L415.8,441.8 L416.3,442.0 L416.8,441.8 L417.3,442.0 L417.8,441.7 L418.3,441.4 L418.8,441.1 L419.3,441.2 L419.8,441.2 L420.3,441.4 L420.8,441.2 L421.3,441.3 L421.8,441.4 L422.3,441.5 L422.8,441.3 L423.3,441.2 L423.8,441.4 L424.3,441.2 L424.8,440.9 L425.3,441.3 L425.8,441.5 L426.3,441.3 L426.8,441.5 L427.3,441.4 L427.8,441.1 L428.3,441.1 L428.8,441.4 L429.3,441.7 L429.8,441.8 L430.3,441.7 L430.8,441.8 L431.3,441.3 L431.8,441.1 L432.3,441.1 L432.8,441.0 L433.3,440.7 L433.8,441.1 L434.3,440.9 L434.8,440.9 L435.3,441.1 L435.8,441.5 L436.3,441.4 L436.8,442.1 L437.3,442.4 L437.8,442.7 L438.3,442.7 L438.8,442.8 L439.3,442.3 L439.8,442.2 L440.3,441.9 L440.8,441.5 L441.3,441.3 L441.8,440.7 L442.3,439.9 L442.8,439.1 L443.3,438.1 L443.8,437.1 L444.3,436.0 L444.8,435.1 L445.3,433.9 L445.8,433.0 L446.3,432.0 L446.8,431.1 L447.3,429.6 L447.8,428.5 L448.3,427.1 L448.8,425.4 L449.3,423.7 L449.8,422.4 L450.3,421.1 L450.8,419.5 L451.3,418.3 L451.8,417.3 L452.3,416.0 L452.8,414.4 L453.3,413.7 L453.8,412.2 L454.3,411.0 L454.8,410.1 L455.3,408.8 L455.8,407.6 L456.3,406.9 L456.8,405.8 L457.3,404.4 L457.8,403.8 L458.3,402.5 L458.8,401.5 L459.3,400.5 L459.8,399.4 L460.3,398.0 L460.8,396.8 L461.3,395.5 L461.8,394.2 L462.3,393.3 L462.8,392.5 L463.3,391.6 L463.8,390.3 L464.3,389.7 L464.8,389.2 L465.3,388.3 L465.8,387.8 L466.3,387.7 L466.8,387.1 L467.3,386.4 L467.8,386.2 L468.3,385.8 L468.8,385.2 L469.3,384.6 L469.8,383.8 L470.3,383.3 L470.8,383.0 L471.3,382.6 L471.8,382.1 L472.3,382.0 L472.8,381.2 L473.3,380.9 L473.8,379.9 L474.3,379.5 L474.8,379.2 L475.3,379.0 L475.8,378.7 L476.3,378.6 L476.8,378.8 L477.3,378.4 L477.8,378.2 L478.3,377.9 L478.8,378.0 L479.3,377.6 L479.8,377.3 L480.3,376.7 L480.8,376.3 L481.3,376.2 L481.8,375.7 L482.3,375.3 L482.8,375.4 L483.3,375.2 L483.8,374.8 L484.3,374.2 L484.8,373.8 L485.3,373.6 L485.8,373.2 L486.3,372.9 L486.8,373.3 L487.3,373.2 L487.8,372.8 L488.3,372.5 L488.8,372.1 L489.3,371.6 L489.8,371.2 L490.3,370.5 L490.8,370.7 L491.3,370.6 L491.8,370.6 L492.3,370.7 L492.8,371.0 L493.3,370.7 L493.8,370.7 L494.3,370.1 L494.8,370.2 L495.3,369.8 L495.8,369.6 L496.3,369.8 L496.8,369.9 L497.3,369.8 L497.8,369.8 L498.3,369.7 L498.8,369.1 L499.3,369.1 L499.8,368.5 L500.3,368.3 L500.8,368.1 L501.3,367.7 L501.8,367.3 L502.3,367.5 L502.8,367.4 L503.3,367.1 L503.8,367.0 L504.3,367.1 L504.8,366.8 L505.3,366.8 L505.8,366.9" fill="none" stroke="#22187c" stroke-width="1.8" stroke-linejoin="round" stroke-linecap="round" opacity="1.0"/>
<path d="M329.8,444.5 L330.3,444.4 L330.8,444.2 L331.3,444.2 L331.8,444.2 L332.3,444.0 L332.8,443.8 L333.3,444.2 L333.8,444.2 L334.3,444.2 L334.8,442.5 L335.3,441.3 L335.8,441.2 L336.3,441.4 L336.8,441.3 L337.3,441.3 L337.8,441.3 L338.3,441.2 L338.8,441.1 L339.3,441.0 L339.8,441.1 L340.3,441.1 L340.8,441.2 L341.3,441.1 L341.8,441.1 L342.3,441.1 L342.8,441.1 L343.3,441.1 L343.8,441.1 L344.3,440.9 L344.8,440.9 L345.3,441.2 L345.8,441.2 L346.3,441.3 L346.8,441.7 L347.3,441.6 L347.8,441.3 L348.3,441.3 L348.8,441.4 L349.3,441.4 L349.8,441.5 L350.3,441.8 L350.8,441.6 L351.3,441.5 L351.8,441.5 L352.3,441.5 L352.8,441.3 L353.3,441.2 L353.8,441.2 L354.3,441.2 L354.8,440.8 L355.3,441.0 L355.8,440.8 L356.3,440.9 L356.8,441.1 L357.3,441.5 L357.8,441.4 L358.3,441.5 L358.8,441.3 L359.3,441.2 L359.8,441.0 L360.3,441.1 L360.8,441.3 L361.3,441.4 L361.8,441.3 L362.3,441.1 L362.8,441.1 L363.3,440.9 L363.8,440.9 L364.3,441.2 L364.8,441.7 L365.3,441.8 L365.8,442.0 L366.3,442.2 L366.8,441.9 L367.3,441.8 L367.8,441.8 L368.3,441.7 L368.8,441.4 L369.3,441.3 L369.8,441.3 L370.3,441.1 L370.8,441.2 L371.3,441.2 L371.8,441.5 L372.3,441.7 L372.8,441.6 L373.3,441.6 L373.8,441.6 L374.3,441.6 L374.8,441.5 L375.3,441.7 L375.8,441.6 L376.3,441.6 L376.8,441.5 L377.3,441.4 L377.8,441.4 L378.3,441.4 L378.8,441.3 L379.3,441.4 L379.8,441.2 L380.3,441.3 L380.8,441.3 L381.3,441.5 L381.8,441.4 L382.3,441.9 L382.8,441.8 L383.3,441.8 L383.8,441.6 L384.3,441.8 L384.8,441.4 L385.3,441.5 L385.8,441.4 L386.3,441.5 L386.8,441.3 L387.3,441.5 L387.8,441.3 L388.3,441.3 L388.8,441.3 L389.3,441.2 L389.8,441.0 L390.3,441.1 L390.8,441.0 L391.3,441.0 L391.8,441.1 L392.3,441.2 L392.8,441.1 L393.3,441.4 L393.8,441.2 L394.3,441.3 L394.8,441.5 L395.3,441.5 L395.8,441.5 L396.3,441.4 L396.8,441.3 L397.3,441.2 L397.8,441.2 L398.3,441.2 L398.8,441.4 L399.3,441.7 L399.8,441.7 L400.3,441.6 L400.8,441.5 L401.3,441.7 L401.8,441.2 L402.3,441.3 L402.8,441.4 L403.3,441.5 L403.8,441.5 L404.3,441.9 L404.8,442.0 L405.3,441.8 L405.8,441.9 L406.3,441.5 L406.8,441.4 L407.3,441.3 L407.8,441.4 L408.3,441.4 L408.8,441.6 L409.3,441.8 L409.8,441.8 L410.3,441.6 L410.8,441.6 L411.3,441.6 L411.8,441.4 L412.3,441.3 L412.8,441.7 L413.3,441.4 L413.8,441.4 L414.3,441.3 L414.8,441.2 L415.3,441.1 L415.8,441.1 L416.3,441.0 L416.8,441.2 L417.3,441.1 L417.8,441.2 L418.3,441.3 L418.8,441.4 L419.3,441.4 L419.8,441.5 L420.3,441.3 L420.8,441.1 L421.3,441.0 L421.8,440.9 L422.3,441.1 L422.8,441.3 L423.3,441.4 L423.8,441.6 L424.3,441.7 L424.8,441.4 L425.3,441.4 L425.8,441.6 L426.3,441.5 L426.8,441.4 L427.3,441.5 L427.8,441.3 L428.3,441.2 L428.8,441.3 L429.3,441.2 L429.8,441.1 L430.3,441.3 L430.8,441.3 L431.3,441.4 L431.8,441.4 L432.3,441.6 L432.8,441.6 L433.3,441.5 L433.8,441.6 L434.3,441.6 L434.8,440.0 L435.3,438.1 L435.8,440.0 L436.3,441.6 L436.8,442.5 L437.3,442.7 L437.8,442.9 L438.3,442.8 L438.8,442.5 L439.3,442.0 L439.8,441.9 L440.3,441.4 L440.8,441.1 L441.3,440.5 L441.8,439.8 L442.3,439.1 L442.8,438.4 L443.3,437.4 L443.8,436.5 L444.3,435.6 L444.8,434.6 L445.3,433.6 L445.8,432.4 L446.3,431.2 L446.8,429.8 L447.3,428.7 L447.8,427.3 L448.3,426.2 L448.8,424.9 L449.3,423.4 L449.8,422.0 L450.3,420.6 L450.8,419.2 L451.3,417.8 L451.8,416.8 L452.3,415.5 L452.8,414.6 L453.3,413.4 L453.8,412.1 L454.3,410.7 L454.8,409.6 L455.3,408.4 L455.8,407.4 L456.3,406.4 L456.8,405.5 L457.3,404.5 L457.8,403.4 L458.3,402.2 L458.8,401.0 L459.3,399.8 L459.8,398.7 L460.3,397.4 L460.8,395.8 L461.3,394.8 L461.8,393.4 L462.3,392.6 L462.8,391.8 L463.3,391.1 L463.8,390.5 L464.3,390.0 L464.8,389.2 L465.3,388.6 L465.8,388.0 L466.3,387.3 L466.8,386.6 L467.3,386.1 L467.8,385.4 L468.3,384.8 L468.8,383.9 L469.3,383.6 L469.8,383.1 L470.3,382.3 L470.8,382.1 L471.3,381.8 L471.8,381.0 L472.3,380.3 L472.8,380.0 L473.3,379.5 L473.8,379.0 L474.3,378.3 L474.8,378.2 L475.3,377.9 L475.8,377.1 L476.3,376.7 L476.8,376.3 L477.3,375.6 L477.8,375.1 L478.3,374.9 L478.8,374.4 L479.3,374.0 L479.8,373.6 L480.3,373.1 L480.8,373.0 L481.3,372.5 L481.8,372.3 L482.3,371.8 L482.8,371.4 L483.3,370.9 L483.8,370.7 L484.3,370.2 L484.8,369.8 L485.3,369.7 L485.8,369.0 L486.3,368.9 L486.8,368.8 L487.3,368.5 L487.8,368.3 L488.3,368.4 L488.8,368.0 L489.3,367.7 L489.8,367.8 L490.3,367.6 L490.8,367.1 L491.3,366.8 L491.8,366.6 L492.3,366.2 L492.8,365.6 L493.3,365.7 L493.8,365.6 L494.3,365.5 L494.8,365.6 L495.3,365.6 L495.8,365.4 L496.3,365.3 L496.8,365.1 L497.3,364.8 L497.8,364.9 L498.3,364.8 L498.8,364.9 L499.3,364.7 L499.8,364.7 L500.3,364.3 L500.8,364.2 L501.3,363.8 L501.8,364.0 L502.3,364.0 L502.8,364.2 L503.3,364.3 L503.8,364.5 L504.3,364.4 L504.8,364.1 L505.3,364.0 L505.8,363.7" fill="none" stroke="#1088b2" stroke-width="1.8" stroke-linejoin="round" stroke-linecap="round" opacity="1.0"/>
<line x1="76.80" y1="47.70" x2="76.80" y2="170.30" stroke="#000" stroke-width="1.6"/>
<line x1="76.00" y1="165.10" x2="243.60" y2="165.10" stroke="#000" stroke-width="1.6"/>
<line x1="71.50" y1="51.00" x2="76.80" y2="51.00" stroke="#000" stroke-width="1.4"/>
<text x="58.48" y="55.50" font-size="13" textLength="7.95" lengthAdjust="spacingAndGlyphs" >3</text>
<line x1="71.50" y1="77.10" x2="76.80" y2="77.10" stroke="#000" stroke-width="1.4"/>
<line x1="71.50" y1="103.10" x2="76.80" y2="103.10" stroke="#000" stroke-width="1.4"/>
<text x="58.56" y="107.60" font-size="13" textLength="7.95" lengthAdjust="spacingAndGlyphs" >2</text>
<line x1="71.50" y1="129.10" x2="76.80" y2="129.10" stroke="#000" stroke-width="1.4"/>
<line x1="71.50" y1="155.20" x2="76.80" y2="155.20" stroke="#000" stroke-width="1.4"/>
<text x="58.55" y="159.70" font-size="13" textLength="7.95" lengthAdjust="spacingAndGlyphs" >1</text>
<line x1="76.80" y1="165.10" x2="76.80" y2="170.30" stroke="#000" stroke-width="1.4"/>
<line x1="100.20" y1="165.10" x2="100.20" y2="170.30" stroke="#000" stroke-width="1.4"/>
<line x1="123.60" y1="165.10" x2="123.60" y2="170.30" stroke="#000" stroke-width="1.4"/>
<text x="111.71" y="186.70" font-size="13" textLength="23.86" lengthAdjust="spacingAndGlyphs" >120</text>
<line x1="147.00" y1="165.10" x2="147.00" y2="170.30" stroke="#000" stroke-width="1.4"/>
<line x1="170.40" y1="165.10" x2="170.40" y2="170.30" stroke="#000" stroke-width="1.4"/>
<text x="158.69" y="186.70" font-size="13" textLength="23.86" lengthAdjust="spacingAndGlyphs" >240</text>
<line x1="193.80" y1="165.10" x2="193.80" y2="170.30" stroke="#000" stroke-width="1.4"/>
<line x1="217.20" y1="165.10" x2="217.20" y2="170.30" stroke="#000" stroke-width="1.4"/>
<text x="205.58" y="186.70" font-size="13" textLength="23.86" lengthAdjust="spacingAndGlyphs" >360</text>
<line x1="240.60" y1="165.10" x2="240.60" y2="170.30" stroke="#000" stroke-width="1.4"/>
<line x1="330.80" y1="45.20" x2="330.80" y2="170.30" stroke="#000" stroke-width="1.6"/>
<line x1="330.00" y1="165.30" x2="507.30" y2="165.30" stroke="#000" stroke-width="1.6"/>
<line x1="325.80" y1="48.10" x2="330.80" y2="48.10" stroke="#000" stroke-width="1.4"/>
<text x="296.70" y="52.60" font-size="13" textLength="23.86" lengthAdjust="spacingAndGlyphs" >100</text>
<line x1="325.80" y1="105.80" x2="330.80" y2="105.80" stroke="#000" stroke-width="1.4"/>
<text x="304.65" y="110.30" font-size="13" textLength="15.91" lengthAdjust="spacingAndGlyphs" >50</text>
<line x1="325.80" y1="163.20" x2="330.80" y2="163.20" stroke="#000" stroke-width="1.4"/>
<text x="312.61" y="167.70" font-size="13" textLength="7.95" lengthAdjust="spacingAndGlyphs" >0</text>
<line x1="330.80" y1="165.30" x2="330.80" y2="170.30" stroke="#000" stroke-width="1.4"/>
<line x1="357.22" y1="165.30" x2="357.22" y2="170.30" stroke="#000" stroke-width="1.4"/>
<line x1="383.64" y1="165.30" x2="383.64" y2="170.30" stroke="#000" stroke-width="1.4"/>
<text x="371.75" y="186.70" font-size="13" textLength="23.86" lengthAdjust="spacingAndGlyphs" >120</text>
<line x1="410.06" y1="165.30" x2="410.06" y2="170.30" stroke="#000" stroke-width="1.4"/>
<line x1="436.48" y1="165.30" x2="436.48" y2="170.30" stroke="#000" stroke-width="1.4"/>
<text x="424.77" y="186.70" font-size="13" textLength="23.86" lengthAdjust="spacingAndGlyphs" >240</text>
<line x1="462.90" y1="165.30" x2="462.90" y2="170.30" stroke="#000" stroke-width="1.4"/>
<line x1="489.32" y1="165.30" x2="489.32" y2="170.30" stroke="#000" stroke-width="1.4"/>
<text x="477.70" y="186.70" font-size="13" textLength="23.86" lengthAdjust="spacingAndGlyphs" >360</text>
<line x1="71.10" y1="327.30" x2="71.10" y2="451.20" stroke="#000" stroke-width="1.6"/>
<line x1="70.30" y1="446.10" x2="247.30" y2="446.10" stroke="#000" stroke-width="1.6"/>
<line x1="66.20" y1="330.80" x2="71.10" y2="330.80" stroke="#000" stroke-width="1.4"/>
<text x="52.88" y="335.30" font-size="13" textLength="7.95" lengthAdjust="spacingAndGlyphs" >3</text>
<line x1="66.20" y1="357.10" x2="71.10" y2="357.10" stroke="#000" stroke-width="1.4"/>
<line x1="66.20" y1="383.40" x2="71.10" y2="383.40" stroke="#000" stroke-width="1.4"/>
<text x="52.96" y="387.90" font-size="13" textLength="7.95" lengthAdjust="spacingAndGlyphs" >2</text>
<line x1="66.20" y1="409.70" x2="71.10" y2="409.70" stroke="#000" stroke-width="1.4"/>
<line x1="66.20" y1="435.90" x2="71.10" y2="435.90" stroke="#000" stroke-width="1.4"/>
<text x="52.95" y="440.40" font-size="13" textLength="7.95" lengthAdjust="spacingAndGlyphs" >1</text>
<line x1="71.10" y1="446.10" x2="71.10" y2="451.20" stroke="#000" stroke-width="1.4"/>
<line x1="95.83" y1="446.10" x2="95.83" y2="451.20" stroke="#000" stroke-width="1.4"/>
<line x1="120.56" y1="446.10" x2="120.56" y2="451.20" stroke="#000" stroke-width="1.4"/>
<text x="108.67" y="468.00" font-size="13" textLength="23.86" lengthAdjust="spacingAndGlyphs" >120</text>
<line x1="145.29" y1="446.10" x2="145.29" y2="451.20" stroke="#000" stroke-width="1.4"/>
<line x1="170.02" y1="446.10" x2="170.02" y2="451.20" stroke="#000" stroke-width="1.4"/>
<text x="158.31" y="468.00" font-size="13" textLength="23.86" lengthAdjust="spacingAndGlyphs" >240</text>
<line x1="194.75" y1="446.10" x2="194.75" y2="451.20" stroke="#000" stroke-width="1.4"/>
<line x1="219.48" y1="446.10" x2="219.48" y2="451.20" stroke="#000" stroke-width="1.4"/>
<text x="207.86" y="468.00" font-size="13" textLength="23.86" lengthAdjust="spacingAndGlyphs" >360</text>
<line x1="244.21" y1="446.10" x2="244.21" y2="451.20" stroke="#000" stroke-width="1.4"/>
<line x1="329.50" y1="326.20" x2="329.50" y2="451.20" stroke="#000" stroke-width="1.6"/>
<line x1="328.70" y1="446.40" x2="506.00" y2="446.40" stroke="#000" stroke-width="1.6"/>
<line x1="324.20" y1="329.40" x2="329.50" y2="329.40" stroke="#000" stroke-width="1.4"/>
<text x="295.50" y="333.90" font-size="13" textLength="23.86" lengthAdjust="spacingAndGlyphs" >100</text>
<line x1="324.20" y1="386.50" x2="329.50" y2="386.50" stroke="#000" stroke-width="1.4"/>
<text x="303.45" y="391.00" font-size="13" textLength="15.91" lengthAdjust="spacingAndGlyphs" >50</text>
<line x1="324.20" y1="444.20" x2="329.50" y2="444.20" stroke="#000" stroke-width="1.4"/>
<text x="311.41" y="448.70" font-size="13" textLength="7.95" lengthAdjust="spacingAndGlyphs" >0</text>
<line x1="329.50" y1="446.40" x2="329.50" y2="451.20" stroke="#000" stroke-width="1.4"/>
<line x1="355.80" y1="446.40" x2="355.80" y2="451.20" stroke="#000" stroke-width="1.4"/>
<line x1="382.10" y1="446.40" x2="382.10" y2="451.20" stroke="#000" stroke-width="1.4"/>
<text x="370.21" y="467.70" font-size="13" textLength="23.86" lengthAdjust="spacingAndGlyphs" >120</text>
<line x1="408.40" y1="446.40" x2="408.40" y2="451.20" stroke="#000" stroke-width="1.4"/>
<line x1="434.70" y1="446.40" x2="434.70" y2="451.20" stroke="#000" stroke-width="1.4"/>
<text x="422.99" y="467.70" font-size="13" textLength="23.86" lengthAdjust="spacingAndGlyphs" >240</text>
<line x1="461.00" y1="446.40" x2="461.00" y2="451.20" stroke="#000" stroke-width="1.4"/>
<line x1="487.30" y1="446.40" x2="487.30" y2="451.20" stroke="#000" stroke-width="1.4"/>
<text x="475.68" y="467.70" font-size="13" textLength="23.86" lengthAdjust="spacingAndGlyphs" >360</text>
<text x="11.91" y="25.60" font-size="19.5" font-weight="bold" stroke="#000" stroke-width="0.5" >A</text>
<text x="272.79" y="25.90" font-size="19.5" font-weight="bold" stroke="#000" stroke-width="0.5" >B</text>
<text x="11.90" y="307.00" font-size="19.5" font-weight="bold" stroke="#000" stroke-width="0.5" >C</text>
<text x="272.89" y="307.10" font-size="19.5" font-weight="bold" stroke="#000" stroke-width="0.5" >D</text>
<text transform="translate(32.10,106.00) rotate(-90)" font-size="16" text-anchor="middle" textLength="117" lengthAdjust="spacingAndGlyphs" stroke="#000" stroke-width="0.3">Fluo-4-AM fluorescence</text>
<text transform="translate(50.30,106.00) rotate(-90)" font-size="16" text-anchor="middle" textLength="102.5" lengthAdjust="spacingAndGlyphs" stroke="#000" stroke-width="0.3">intensity fold change</text>
<text transform="translate(26.80,386.30) rotate(-90)" font-size="16" text-anchor="middle" textLength="116.5" lengthAdjust="spacingAndGlyphs" stroke="#000" stroke-width="0.3">Fluo-4-AM fluorescence</text>
<text transform="translate(44.50,386.30) rotate(-90)" font-size="16" text-anchor="middle" textLength="102.5" lengthAdjust="spacingAndGlyphs" stroke="#000" stroke-width="0.3">intensity fold change</text>
<text transform="translate(288.20,105.65) rotate(-90)" font-size="16" text-anchor="middle" textLength="81" lengthAdjust="spacingAndGlyphs" stroke="#000" stroke-width="0.3">Aggregation [%]</text>
<text transform="translate(286.90,386.90) rotate(-90)" font-size="16" text-anchor="middle" textLength="81" lengthAdjust="spacingAndGlyphs" stroke="#000" stroke-width="0.3">Aggregation [%]</text>
<text x="169.40" y="208.70" font-size="16" text-anchor="middle" textLength="41" lengthAdjust="spacingAndGlyphs" stroke="#000" stroke-width="0.3">Time [s]</text>
<text x="419.50" y="208.70" font-size="16" text-anchor="middle" textLength="41" lengthAdjust="spacingAndGlyphs" stroke="#000" stroke-width="0.3">Time [s]</text>
<text x="159.20" y="489.90" font-size="16" text-anchor="middle" textLength="41" lengthAdjust="spacingAndGlyphs" stroke="#000" stroke-width="0.3">Time [s]</text>
<text x="418.00" y="489.90" font-size="16" text-anchor="middle" textLength="41" lengthAdjust="spacingAndGlyphs" stroke="#000" stroke-width="0.3">Time [s]</text>
<line x1="170.30" y1="51.00" x2="170.30" y2="65.30" stroke="#000" stroke-width="1.5"/>
<path d="M170.30,69.30 L166.20,60.10 L170.30,62.70 L174.40,60.10 Z" fill="#000"/>
<text x="175.91" y="57.60" font-size="12" textLength="53.43" lengthAdjust="spacingAndGlyphs" >+ TRAP-6</text>
<line x1="436.20" y1="85.10" x2="436.20" y2="98.70" stroke="#000" stroke-width="1.5"/>
<path d="M436.20,102.70 L432.10,93.50 L436.20,96.10 L440.30,93.50 Z" fill="#000"/>
<text x="375.41" y="88.40" font-size="12" textLength="53.63" lengthAdjust="spacingAndGlyphs" >+ TRAP-6</text>
<line x1="170.20" y1="337.30" x2="170.20" y2="351.00" stroke="#000" stroke-width="1.5"/>
<path d="M170.20,355.00 L166.10,345.80 L170.20,348.40 L174.30,345.80 Z" fill="#000"/>
<text x="184.60" y="348.70" font-size="12" textLength="53.94" lengthAdjust="spacingAndGlyphs" >+ TRAP-6</text>
<line x1="436.20" y1="360.50" x2="436.20" y2="374.50" stroke="#000" stroke-width="1.5"/>
<path d="M436.20,378.50 L432.10,369.30 L436.20,371.90 L440.30,369.30 Z" fill="#000"/>
<text x="373.81" y="370.40" font-size="12" textLength="53.53" lengthAdjust="spacingAndGlyphs" >+ TRAP-6</text>
<line x1="62.30" y1="236.30" x2="75.10" y2="236.30" stroke="#0a0a0a" stroke-width="1.7"/>
<text x="80.29" y="239.00" font-size="12" textLength="36.53" lengthAdjust="spacingAndGlyphs" >control</text>
<line x1="62.30" y1="258.80" x2="75.10" y2="258.80" stroke="#d98208" stroke-width="1.7"/>
<text x="79.79" y="261.70" font-size="12" textLength="34.19" lengthAdjust="spacingAndGlyphs" >Ply 30</text>
<line x1="178.70" y1="235.90" x2="190.80" y2="235.90" stroke="#c00008" stroke-width="1.7"/>
<text x="196.08" y="239.60" font-size="12" textLength="41.30" lengthAdjust="spacingAndGlyphs" >Ply 300</text>
<line x1="178.70" y1="258.60" x2="190.80" y2="258.60" stroke="#8f8b1a" stroke-width="1.7"/>
<text x="195.96" y="261.50" font-size="12" textLength="15.97" lengthAdjust="spacingAndGlyphs" >Ply</text>
<text x="211.82" y="255.80" font-size="8.4" textLength="29.68" lengthAdjust="spacingAndGlyphs" >C428G</text>
<text x="244.49" y="261.40" font-size="12" textLength="22.23" lengthAdjust="spacingAndGlyphs" >300</text>
<line x1="304.20" y1="235.90" x2="316.50" y2="235.90" stroke="#1487bb" stroke-width="1.7"/>
<text x="322.10" y="239.60" font-size="12" textLength="37.28" lengthAdjust="spacingAndGlyphs" >Ply 3.0</text>
<line x1="304.20" y1="258.60" x2="316.50" y2="258.60" stroke="#22187c" stroke-width="1.7"/>
<text x="321.17" y="261.50" font-size="12" textLength="15.75" lengthAdjust="spacingAndGlyphs" >Ply</text>
<text x="337.45" y="255.80" font-size="8.4" textLength="29.51" lengthAdjust="spacingAndGlyphs" >W433F</text>
<text x="370.33" y="261.40" font-size="12" textLength="86.35" lengthAdjust="spacingAndGlyphs" >300 [ng/mL Ply]</text>
<line x1="142.10" y1="516.40" x2="154.90" y2="516.40" stroke="#0a0a0a" stroke-width="1.7"/>
<text x="158.28" y="519.70" font-size="12" textLength="37.36" lengthAdjust="spacingAndGlyphs" >control</text>
<line x1="278.10" y1="515.90" x2="290.30" y2="515.90" stroke="#c00008" stroke-width="1.7"/>
<text x="293.98" y="519.80" font-size="12" textLength="86.30" lengthAdjust="spacingAndGlyphs" >Ply 300 [ng/mL]</text>
<line x1="70.00" y1="543.20" x2="83.10" y2="543.20" stroke="#1487bb" stroke-width="1.7"/>
<text x="88.21" y="545.70" font-size="12" textLength="90.70" lengthAdjust="spacingAndGlyphs" >Ply + human IgG</text>
<line x1="210.80" y1="542.30" x2="223.50" y2="542.30" stroke="#d98208" stroke-width="1.7"/>
<text x="227.09" y="545.70" font-size="12" textLength="87.43" lengthAdjust="spacingAndGlyphs" >Ply + rabbit pAb</text>
<line x1="343.10" y1="541.90" x2="356.20" y2="541.90" stroke="#22187c" stroke-width="1.7"/>
<text x="360.91" y="545.70" font-size="12" textLength="94.80" lengthAdjust="spacingAndGlyphs" >Ply + mouse mAb</text>
<rect x="0" y="0" width="520" height="1.8" fill="#000"/>
<rect x="0" y="0" width="1.8" height="561" fill="#000"/>
<rect x="518.2" y="0" width="1.8" height="561" fill="#000"/>
<rect x="0" y="559.2" width="520" height="1.8" fill="#000"/>
</g></svg></body></html>
